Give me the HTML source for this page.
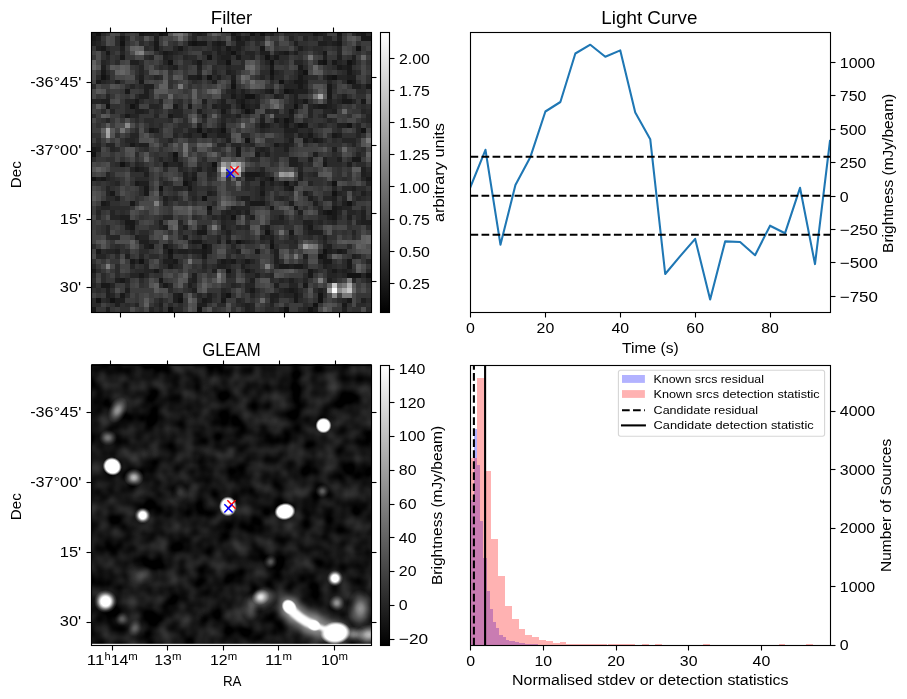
<!DOCTYPE html>
<html lang="en"><head><meta charset="utf-8"><title>Candidate diagnostic plot</title>
<style>html,body{margin:0;padding:0;background:#fff}body{width:907px;height:699px;overflow:hidden}svg{display:block;opacity:0.999;font-family:"Liberation Sans",sans-serif;fill:#000}text{font-family:"Liberation Sans",sans-serif}</style></head><body>
<svg width="907" height="699" viewBox="0 0 907 699">
<rect width="907" height="699" fill="#fff"/>
<defs>
<linearGradient id="cb" x1="0" y1="0" x2="0" y2="1"><stop offset="0" stop-color="#fff"/><stop offset="1" stop-color="#000"/></linearGradient>
<clipPath id="c1"><rect x="91.5" y="32.5" width="280" height="280"/></clipPath>
<clipPath id="c3"><rect x="91.5" y="364" width="280" height="281.5"/></clipPath>
<clipPath id="c2"><rect x="470.5" y="32.5" width="360" height="280"/></clipPath>
<clipPath id="c4"><rect x="470.5" y="365.5" width="360" height="280"/></clipPath>
<filter id="gn" x="0" y="0" width="1" height="1" color-interpolation-filters="sRGB"><feTurbulence type="fractalNoise" baseFrequency="0.056" numOctaves="2" seed="11" result="t"/><feColorMatrix in="t" type="matrix" values="0.38 0 0 0 -0.105  0.38 0 0 0 -0.105  0.38 0 0 0 -0.105  0 0 0 0 1"/></filter>
<filter id="b1" x="-1" y="-1" width="3" height="3"><feGaussianBlur stdDeviation="1.3"/></filter>
<filter id="b2" x="-1" y="-1" width="3" height="3"><feGaussianBlur stdDeviation="2.4"/></filter>
<filter id="b3" x="-1" y="-1" width="3" height="3"><feGaussianBlur stdDeviation="3.5"/></filter>
<radialGradient id="gA"><stop offset="0" stop-color="#fff" stop-opacity="1"/><stop offset="0.25" stop-color="#fff" stop-opacity="0.84"/><stop offset="0.5" stop-color="#fff" stop-opacity="0.5"/><stop offset="0.75" stop-color="#fff" stop-opacity="0.2"/><stop offset="1" stop-color="#fff" stop-opacity="0"/></radialGradient>
<radialGradient id="gB"><stop offset="0" stop-color="#fff" stop-opacity="1"/><stop offset="0.70" stop-color="#fff" stop-opacity="1"/><stop offset="0.80" stop-color="#fff" stop-opacity="0.7"/><stop offset="0.90" stop-color="#fff" stop-opacity="0.3"/><stop offset="1" stop-color="#fff" stop-opacity="0"/></radialGradient>
<radialGradient id="gC"><stop offset="0" stop-color="#fff" stop-opacity="1"/><stop offset="0.40" stop-color="#fff" stop-opacity="1"/><stop offset="0.52" stop-color="#fff" stop-opacity="0.78"/><stop offset="0.66" stop-color="#fff" stop-opacity="0.45"/><stop offset="0.82" stop-color="#fff" stop-opacity="0.16"/><stop offset="1" stop-color="#fff" stop-opacity="0"/></radialGradient>
</defs>
<g clip-path="url(#c1)" shape-rendering="crispEdges">
<rect x="91" y="32" width="281" height="281" fill="#2c2c2c"/>
<g transform="translate(91.18 31.15) scale(4.821 4.846)">
<path fill="#121212" d="M1 0h1v1h-1zM14 0h1v1h-1zM33 0h1v1h-1zM35 0h1v1h-1zM6 2h1v1h-1zM21 2h1v1h-1zM55 3h1v1h-1zM29 4h1v1h-1zM24 5h1v1h-1zM36 5h1v1h-1zM16 6h1v1h-1zM28 6h1v1h-1zM37 6h1v1h-1zM48 6h1v1h-1zM53 6h1v1h-1zM37 8h1v1h-1zM44 8h1v1h-1zM2 9h1v1h-1zM24 9h1v1h-1zM50 9h1v1h-1zM39 10h1v1h-1zM53 10h1v1h-1zM29 11h1v1h-1zM40 12h1v1h-1zM32 13h2v1h-2zM3 15h1v1h-1zM8 15h1v1h-1zM31 15h1v1h-1zM42 15h1v1h-1zM32 16h1v1h-1zM40 18h1v1h-1zM43 19h1v1h-1zM53 19h1v1h-1zM22 20h1v1h-1zM27 20h1v1h-1zM56 20h1v1h-1zM23 21h1v1h-1zM32 22h1v1h-1zM0 25h1v1h-1zM17 25h1v1h-1zM6 27h1v1h-1zM25 27h1v1h-1zM59 28h1v1h-1zM0 30h1v1h-1zM37 30h1v1h-1zM59 30h1v1h-1zM19 31h1v1h-1zM40 31h1v1h-1zM50 31h1v1h-1zM14 32h1v1h-1zM50 33h1v1h-1zM23 34h1v1h-1zM53 35h1v1h-1zM24 36h1v1h-1zM49 37h1v1h-1zM29 38h1v1h-1zM36 41h1v1h-1zM30 43h1v1h-1zM23 44h1v1h-1zM37 44h1v1h-1zM16 45h1v1h-1zM48 45h1v1h-1zM47 46h1v1h-1zM10 47h1v1h-1zM28 49h1v1h-1zM53 50h3v1h-3zM57 50h1v1h-1zM28 54h1v1h-1zM47 54h1v1h-1zM1 55h1v1h-1zM4 55h1v1h-1zM18 55h1v1h-1zM47 55h1v1h-1zM46 56h1v1h-1zM16 57h1v1h-1zM22 57h1v1h-1zM40 57h1v1h-1zM45 57h1v1h-1z"/>
<path fill="#181818" d="M10 0h1v1h-1zM15 0h1v1h-1zM29 0h1v1h-1zM46 0h1v1h-1zM51 0h1v1h-1zM56 0h1v1h-1zM0 1h1v1h-1zM6 1h1v1h-1zM30 1h1v1h-1zM56 1h2v1h-2zM13 2h1v1h-1zM20 2h1v1h-1zM22 2h2v1h-2zM26 2h1v1h-1zM51 2h1v1h-1zM58 2h1v1h-1zM2 3h1v1h-1zM13 3h1v1h-1zM18 3h1v1h-1zM28 3h1v1h-1zM35 3h1v1h-1zM3 4h1v1h-1zM15 4h1v1h-1zM40 4h1v1h-1zM48 4h1v1h-1zM6 5h1v1h-1zM30 5h1v1h-1zM38 5h1v1h-1zM22 6h1v1h-1zM47 6h1v1h-1zM50 6h1v1h-1zM37 7h1v1h-1zM43 7h1v1h-1zM51 7h1v1h-1zM53 7h1v1h-1zM2 8h1v1h-1zM53 8h1v1h-1zM22 9h1v1h-1zM37 9h1v1h-1zM43 9h1v1h-1zM49 9h1v1h-1zM1 10h1v1h-1zM10 10h1v1h-1zM29 10h1v1h-1zM42 10h2v1h-2zM54 10h1v1h-1zM43 11h1v1h-1zM49 11h1v1h-1zM57 11h1v1h-1zM7 12h1v1h-1zM37 12h1v1h-1zM41 12h1v1h-1zM49 12h1v1h-1zM29 13h1v1h-1zM49 13h1v1h-1zM9 14h1v1h-1zM31 14h1v1h-1zM44 14h1v1h-1zM52 14h2v1h-2zM56 14h1v1h-1zM17 15h1v1h-1zM20 15h1v1h-1zM47 15h2v1h-2zM27 16h1v1h-1zM41 16h1v1h-1zM7 17h1v1h-1zM16 17h1v1h-1zM38 18h1v1h-1zM35 19h1v1h-1zM40 19h1v1h-1zM44 19h1v1h-1zM12 20h1v1h-1zM45 21h1v1h-1zM50 21h1v1h-1zM44 22h1v1h-1zM46 22h1v1h-1zM8 23h1v1h-1zM38 23h1v1h-1zM0 24h1v1h-1zM30 24h1v1h-1zM30 25h1v1h-1zM34 25h1v1h-1zM17 26h1v1h-1zM54 26h2v1h-2zM15 27h1v1h-1zM48 27h1v1h-1zM9 28h1v1h-1zM32 29h3v1h-3zM2 30h1v1h-1zM21 30h1v1h-1zM57 30h1v1h-1zM9 31h1v1h-1zM35 31h1v1h-1zM11 32h1v1h-1zM20 32h1v1h-1zM41 32h1v1h-1zM4 33h1v1h-1zM11 33h1v1h-1zM35 33h1v1h-1zM2 35h1v1h-1zM8 35h1v1h-1zM33 35h3v1h-3zM37 36h1v1h-1zM42 36h1v1h-1zM50 36h1v1h-1zM48 37h1v1h-1zM50 37h1v1h-1zM50 38h1v1h-1zM7 39h2v1h-2zM59 39h1v1h-1zM8 40h1v1h-1zM45 40h1v1h-1zM58 40h1v1h-1zM22 41h2v1h-2zM41 41h1v1h-1zM21 43h2v1h-2zM28 43h1v1h-1zM37 43h1v1h-1zM12 44h1v1h-1zM15 44h1v1h-1zM1 45h1v1h-1zM23 45h1v1h-1zM34 45h1v1h-1zM51 45h1v1h-1zM16 46h1v1h-1zM23 46h1v1h-1zM48 46h1v1h-1zM8 47h1v1h-1zM17 47h1v1h-1zM27 47h1v1h-1zM29 47h1v1h-1zM32 47h1v1h-1zM48 47h2v1h-2zM53 47h1v1h-1zM16 48h1v1h-1zM39 48h2v1h-2zM42 48h2v1h-2zM53 48h1v1h-1zM0 49h1v1h-1zM13 49h1v1h-1zM32 49h1v1h-1zM45 49h1v1h-1zM50 49h1v1h-1zM10 50h1v1h-1zM45 50h1v1h-1zM6 51h1v1h-1zM14 51h1v1h-1zM2 52h2v1h-2zM15 52h1v1h-1zM44 52h1v1h-1zM33 53h1v1h-1zM41 53h1v1h-1zM6 54h1v1h-1zM18 54h1v1h-1zM42 54h1v1h-1zM23 55h1v1h-1zM27 55h1v1h-1zM42 55h1v1h-1zM53 55h1v1h-1zM52 56h1v1h-1zM0 57h1v1h-1zM3 58h1v1h-1zM46 58h1v1h-1zM21 59h1v1h-1zM33 59h1v1h-1zM37 59h1v1h-1zM39 59h1v1h-1zM43 59h1v1h-1z"/>
<path fill="#1e1e1e" d="M0 0h1v1h-1zM11 0h2v1h-2zM22 0h1v1h-1zM37 0h1v1h-1zM47 0h1v1h-1zM55 0h1v1h-1zM59 0h1v1h-1zM1 1h1v1h-1zM13 1h1v1h-1zM32 1h1v1h-1zM51 1h1v1h-1zM0 2h1v1h-1zM25 2h1v1h-1zM27 2h1v1h-1zM30 2h2v1h-2zM42 2h1v1h-1zM47 2h2v1h-2zM50 2h1v1h-1zM1 3h1v1h-1zM6 3h1v1h-1zM26 3h1v1h-1zM30 3h1v1h-1zM43 3h1v1h-1zM16 4h1v1h-1zM26 4h1v1h-1zM28 4h1v1h-1zM35 4h2v1h-2zM39 4h1v1h-1zM42 4h1v1h-1zM59 4h1v1h-1zM15 5h1v1h-1zM27 5h2v1h-2zM48 5h1v1h-1zM51 5h1v1h-1zM54 5h1v1h-1zM58 5h1v1h-1zM8 6h2v1h-2zM54 6h1v1h-1zM2 7h1v1h-1zM17 7h1v1h-1zM22 7h1v1h-1zM52 7h1v1h-1zM28 8h1v1h-1zM43 8h1v1h-1zM3 9h1v1h-1zM10 9h1v1h-1zM20 9h2v1h-2zM26 9h1v1h-1zM29 9h1v1h-1zM53 9h2v1h-2zM5 10h1v1h-1zM25 10h1v1h-1zM44 10h1v1h-1zM11 11h2v1h-2zM54 11h2v1h-2zM11 12h1v1h-1zM29 12h1v1h-1zM31 12h1v1h-1zM36 12h1v1h-1zM42 12h3v1h-3zM10 13h2v1h-2zM31 13h1v1h-1zM38 13h1v1h-1zM42 13h1v1h-1zM52 13h1v1h-1zM2 14h2v1h-2zM23 14h1v1h-1zM27 14h1v1h-1zM30 14h1v1h-1zM42 14h1v1h-1zM49 14h1v1h-1zM9 15h1v1h-1zM25 15h1v1h-1zM27 15h2v1h-2zM32 15h1v1h-1zM34 15h1v1h-1zM46 15h1v1h-1zM49 15h1v1h-1zM9 16h2v1h-2zM22 16h1v1h-1zM33 16h1v1h-1zM50 16h1v1h-1zM23 17h1v1h-1zM30 17h1v1h-1zM41 17h1v1h-1zM48 17h1v1h-1zM35 18h1v1h-1zM41 18h1v1h-1zM22 19h1v1h-1zM27 19h1v1h-1zM36 19h1v1h-1zM42 19h1v1h-1zM51 19h2v1h-2zM13 20h1v1h-1zM24 20h1v1h-1zM26 20h1v1h-1zM40 20h3v1h-3zM20 21h1v1h-1zM26 21h2v1h-2zM43 21h1v1h-1zM51 21h1v1h-1zM28 22h1v1h-1zM41 22h1v1h-1zM47 22h1v1h-1zM10 23h2v1h-2zM40 23h1v1h-1zM1 24h1v1h-1zM35 24h1v1h-1zM40 24h1v1h-1zM50 24h1v1h-1zM36 25h1v1h-1zM46 25h1v1h-1zM41 26h2v1h-2zM45 26h1v1h-1zM48 26h1v1h-1zM51 26h1v1h-1zM18 27h1v1h-1zM41 27h2v1h-2zM53 27h1v1h-1zM59 27h1v1h-1zM10 28h1v1h-1zM22 28h1v1h-1zM25 28h1v1h-1zM56 28h1v1h-1zM58 28h1v1h-1zM11 29h1v1h-1zM19 29h1v1h-1zM21 29h1v1h-1zM35 29h1v1h-1zM43 29h1v1h-1zM56 29h1v1h-1zM1 30h1v1h-1zM19 30h1v1h-1zM32 30h2v1h-2zM36 30h1v1h-1zM43 30h1v1h-1zM10 31h2v1h-2zM20 31h1v1h-1zM37 31h1v1h-1zM42 31h1v1h-1zM58 31h1v1h-1zM35 32h1v1h-1zM40 32h1v1h-1zM54 32h1v1h-1zM24 33h1v1h-1zM44 33h1v1h-1zM56 33h1v1h-1zM5 34h1v1h-1zM15 34h1v1h-1zM31 34h2v1h-2zM45 34h1v1h-1zM50 34h1v1h-1zM3 35h1v1h-1zM41 35h1v1h-1zM46 35h1v1h-1zM52 35h1v1h-1zM29 36h1v1h-1zM51 36h1v1h-1zM24 37h1v1h-1zM28 37h1v1h-1zM30 37h1v1h-1zM32 37h1v1h-1zM43 37h1v1h-1zM56 37h1v1h-1zM6 38h2v1h-2zM27 38h1v1h-1zM33 38h1v1h-1zM39 38h1v1h-1zM49 38h1v1h-1zM53 38h1v1h-1zM56 38h1v1h-1zM14 39h1v1h-1zM44 39h2v1h-2zM56 39h2v1h-2zM7 40h1v1h-1zM15 40h1v1h-1zM19 40h1v1h-1zM23 40h1v1h-1zM27 40h1v1h-1zM36 40h1v1h-1zM28 41h1v1h-1zM45 41h3v1h-3zM9 42h1v1h-1zM19 42h1v1h-1zM35 42h1v1h-1zM37 42h1v1h-1zM48 42h1v1h-1zM10 43h2v1h-2zM26 43h1v1h-1zM31 43h1v1h-1zM11 44h1v1h-1zM24 44h1v1h-1zM49 44h1v1h-1zM5 45h1v1h-1zM18 45h2v1h-2zM21 45h2v1h-2zM24 45h1v1h-1zM30 45h1v1h-1zM38 45h1v1h-1zM49 45h1v1h-1zM52 45h1v1h-1zM7 46h1v1h-1zM38 46h1v1h-1zM44 46h1v1h-1zM54 46h1v1h-1zM15 47h2v1h-2zM28 47h1v1h-1zM38 47h1v1h-1zM58 47h1v1h-1zM26 48h2v1h-2zM31 48h1v1h-1zM41 48h1v1h-1zM48 48h1v1h-1zM25 49h1v1h-1zM52 49h1v1h-1zM21 50h1v1h-1zM34 50h1v1h-1zM5 51h1v1h-1zM21 51h1v1h-1zM33 51h1v1h-1zM41 51h1v1h-1zM49 51h1v1h-1zM20 52h1v1h-1zM38 52h1v1h-1zM59 52h1v1h-1zM3 53h1v1h-1zM7 53h1v1h-1zM21 53h1v1h-1zM40 53h1v1h-1zM42 53h1v1h-1zM47 53h1v1h-1zM3 54h1v1h-1zM17 54h1v1h-1zM24 54h1v1h-1zM27 54h1v1h-1zM37 54h2v1h-2zM5 55h2v1h-2zM17 55h1v1h-1zM24 55h1v1h-1zM37 55h1v1h-1zM56 55h1v1h-1zM5 56h1v1h-1zM14 56h1v1h-1zM22 56h2v1h-2zM32 56h1v1h-1zM58 56h1v1h-1zM3 57h1v1h-1zM32 57h1v1h-1zM46 57h1v1h-1zM52 57h1v1h-1zM14 58h3v1h-3zM18 58h1v1h-1zM22 58h1v1h-1zM33 58h1v1h-1zM36 58h1v1h-1zM45 58h1v1h-1zM52 58h1v1h-1zM0 59h1v1h-1zM3 59h1v1h-1zM13 59h1v1h-1zM20 59h1v1h-1zM32 59h1v1h-1zM34 59h1v1h-1zM50 59h1v1h-1zM55 59h1v1h-1zM59 59h1v1h-1z"/>
<path fill="#242424" d="M13 0h1v1h-1zM21 0h1v1h-1zM23 0h1v1h-1zM30 0h1v1h-1zM34 0h1v1h-1zM36 0h1v1h-1zM48 0h1v1h-1zM21 1h1v1h-1zM29 1h1v1h-1zM31 1h1v1h-1zM34 1h2v1h-2zM41 1h1v1h-1zM44 1h1v1h-1zM48 1h2v1h-2zM1 2h1v1h-1zM49 2h1v1h-1zM17 3h1v1h-1zM25 3h1v1h-1zM29 3h1v1h-1zM51 3h1v1h-1zM58 3h1v1h-1zM6 4h1v1h-1zM14 4h1v1h-1zM17 4h1v1h-1zM23 4h2v1h-2zM27 4h1v1h-1zM30 4h1v1h-1zM32 4h2v1h-2zM38 4h1v1h-1zM51 4h1v1h-1zM58 4h1v1h-1zM3 5h1v1h-1zM12 5h1v1h-1zM16 5h1v1h-1zM19 5h1v1h-1zM26 5h1v1h-1zM33 5h1v1h-1zM37 5h1v1h-1zM2 6h1v1h-1zM15 6h1v1h-1zM21 6h1v1h-1zM26 6h2v1h-2zM36 6h1v1h-1zM42 6h2v1h-2zM51 6h1v1h-1zM10 7h1v1h-1zM16 7h1v1h-1zM28 7h1v1h-1zM58 7h1v1h-1zM10 8h1v1h-1zM22 8h1v1h-1zM25 8h1v1h-1zM29 8h1v1h-1zM38 8h1v1h-1zM54 8h1v1h-1zM13 9h1v1h-1zM35 9h1v1h-1zM44 9h1v1h-1zM48 9h1v1h-1zM51 9h2v1h-2zM2 10h1v1h-1zM41 10h1v1h-1zM49 10h1v1h-1zM8 11h1v1h-1zM40 11h3v1h-3zM44 11h1v1h-1zM58 11h1v1h-1zM28 12h1v1h-1zM3 13h1v1h-1zM30 13h1v1h-1zM34 13h1v1h-1zM39 13h1v1h-1zM0 14h2v1h-2zM7 14h2v1h-2zM14 14h1v1h-1zM32 14h1v1h-1zM34 14h1v1h-1zM43 14h1v1h-1zM51 14h1v1h-1zM54 14h1v1h-1zM12 15h2v1h-2zM26 15h1v1h-1zM30 15h1v1h-1zM33 15h1v1h-1zM45 15h1v1h-1zM50 15h1v1h-1zM59 15h1v1h-1zM4 16h1v1h-1zM11 16h1v1h-1zM17 16h2v1h-2zM31 16h1v1h-1zM36 16h1v1h-1zM38 16h1v1h-1zM45 16h1v1h-1zM48 16h2v1h-2zM56 16h1v1h-1zM58 16h1v1h-1zM8 17h2v1h-2zM13 17h1v1h-1zM17 17h2v1h-2zM27 17h2v1h-2zM35 17h1v1h-1zM45 17h1v1h-1zM57 17h1v1h-1zM3 18h1v1h-1zM27 18h1v1h-1zM39 18h1v1h-1zM49 18h1v1h-1zM57 18h1v1h-1zM39 19h1v1h-1zM47 19h1v1h-1zM55 19h1v1h-1zM20 20h2v1h-2zM25 20h1v1h-1zM35 20h1v1h-1zM45 20h1v1h-1zM55 20h1v1h-1zM8 21h2v1h-2zM17 21h1v1h-1zM19 21h1v1h-1zM28 21h1v1h-1zM40 21h2v1h-2zM44 21h1v1h-1zM55 21h1v1h-1zM59 21h1v1h-1zM7 22h2v1h-2zM16 22h1v1h-1zM45 22h1v1h-1zM52 22h3v1h-3zM1 23h1v1h-1zM3 23h2v1h-2zM9 23h1v1h-1zM26 23h2v1h-2zM29 23h2v1h-2zM33 23h1v1h-1zM39 23h1v1h-1zM41 23h1v1h-1zM54 23h1v1h-1zM4 24h1v1h-1zM34 24h1v1h-1zM36 24h1v1h-1zM59 24h1v1h-1zM55 25h1v1h-1zM59 25h1v1h-1zM14 26h1v1h-1zM7 27h1v1h-1zM9 27h1v1h-1zM16 27h2v1h-2zM43 27h1v1h-1zM58 27h1v1h-1zM8 28h1v1h-1zM11 28h1v1h-1zM18 28h1v1h-1zM24 28h1v1h-1zM35 28h1v1h-1zM43 28h1v1h-1zM3 29h1v1h-1zM24 29h1v1h-1zM46 29h1v1h-1zM57 29h1v1h-1zM59 29h1v1h-1zM3 30h1v1h-1zM20 30h1v1h-1zM35 30h1v1h-1zM56 30h1v1h-1zM58 30h1v1h-1zM5 31h1v1h-1zM15 31h1v1h-1zM39 31h1v1h-1zM45 31h1v1h-1zM57 31h1v1h-1zM3 32h1v1h-1zM17 32h2v1h-2zM50 32h1v1h-1zM52 32h2v1h-2zM3 33h1v1h-1zM14 33h1v1h-1zM25 33h1v1h-1zM51 33h1v1h-1zM58 33h1v1h-1zM17 34h1v1h-1zM21 34h1v1h-1zM35 34h1v1h-1zM39 34h1v1h-1zM48 34h2v1h-2zM52 34h1v1h-1zM55 34h1v1h-1zM58 34h1v1h-1zM15 35h1v1h-1zM32 35h1v1h-1zM50 35h1v1h-1zM2 36h2v1h-2zM30 36h3v1h-3zM47 36h1v1h-1zM52 36h2v1h-2zM1 37h1v1h-1zM4 37h1v1h-1zM27 37h1v1h-1zM29 37h1v1h-1zM47 37h1v1h-1zM51 37h1v1h-1zM53 37h2v1h-2zM4 38h2v1h-2zM15 38h2v1h-2zM25 38h1v1h-1zM28 38h1v1h-1zM59 38h1v1h-1zM18 39h1v1h-1zM27 39h1v1h-1zM37 39h3v1h-3zM47 39h1v1h-1zM50 39h1v1h-1zM55 39h1v1h-1zM3 40h1v1h-1zM14 40h1v1h-1zM30 40h1v1h-1zM32 40h1v1h-1zM44 40h1v1h-1zM3 41h1v1h-1zM8 41h1v1h-1zM54 41h1v1h-1zM4 42h2v1h-2zM10 42h2v1h-2zM26 42h1v1h-1zM28 42h1v1h-1zM36 42h1v1h-1zM41 42h1v1h-1zM20 43h1v1h-1zM32 43h1v1h-1zM42 43h1v1h-1zM48 43h1v1h-1zM16 44h1v1h-1zM29 44h1v1h-1zM48 44h1v1h-1zM3 45h2v1h-2zM15 45h1v1h-1zM17 45h1v1h-1zM20 45h1v1h-1zM50 45h1v1h-1zM1 46h2v1h-2zM10 46h1v1h-1zM55 46h1v1h-1zM9 47h1v1h-1zM26 47h1v1h-1zM31 47h1v1h-1zM33 47h1v1h-1zM47 47h1v1h-1zM57 47h1v1h-1zM59 47h1v1h-1zM0 48h1v1h-1zM8 48h1v1h-1zM11 48h1v1h-1zM17 48h1v1h-1zM23 48h1v1h-1zM28 48h1v1h-1zM38 48h1v1h-1zM44 48h1v1h-1zM49 48h1v1h-1zM58 48h1v1h-1zM11 49h2v1h-2zM33 49h1v1h-1zM46 49h1v1h-1zM49 49h1v1h-1zM51 49h1v1h-1zM53 49h1v1h-1zM0 50h1v1h-1zM8 50h2v1h-2zM11 50h1v1h-1zM28 50h1v1h-1zM37 50h1v1h-1zM49 50h2v1h-2zM52 50h1v1h-1zM56 50h1v1h-1zM58 50h1v1h-1zM7 51h1v1h-1zM20 51h1v1h-1zM39 51h1v1h-1zM44 51h1v1h-1zM54 51h1v1h-1zM57 51h1v1h-1zM0 52h1v1h-1zM4 52h1v1h-1zM16 52h1v1h-1zM29 52h1v1h-1zM32 52h2v1h-2zM41 52h2v1h-2zM27 53h1v1h-1zM32 53h1v1h-1zM39 53h1v1h-1zM4 54h1v1h-1zM22 54h1v1h-1zM33 54h1v1h-1zM40 54h2v1h-2zM43 54h1v1h-1zM3 55h1v1h-1zM14 55h1v1h-1zM30 55h1v1h-1zM38 55h1v1h-1zM52 55h1v1h-1zM58 55h1v1h-1zM9 56h1v1h-1zM31 56h1v1h-1zM33 56h1v1h-1zM37 56h1v1h-1zM12 57h1v1h-1zM14 57h1v1h-1zM33 57h1v1h-1zM39 57h1v1h-1zM44 57h1v1h-1zM10 58h1v1h-1zM12 58h2v1h-2zM19 58h1v1h-1zM25 58h1v1h-1zM32 58h1v1h-1zM39 58h2v1h-2zM44 58h1v1h-1zM50 58h1v1h-1zM55 58h1v1h-1zM58 58h2v1h-2zM1 59h1v1h-1zM10 59h2v1h-2zM22 59h2v1h-2zM29 59h3v1h-3zM36 59h1v1h-1zM40 59h2v1h-2zM45 59h1v1h-1zM47 59h1v1h-1zM57 59h1v1h-1z"/>
<path fill="#2a2a2a" d="M2 0h1v1h-1zM6 0h1v1h-1zM40 0h2v1h-2zM43 0h3v1h-3zM54 0h1v1h-1zM57 0h1v1h-1zM5 1h1v1h-1zM7 1h1v1h-1zM33 1h1v1h-1zM46 1h1v1h-1zM59 1h1v1h-1zM5 2h1v1h-1zM10 2h1v1h-1zM12 2h1v1h-1zM34 2h1v1h-1zM59 2h1v1h-1zM3 3h1v1h-1zM11 3h1v1h-1zM14 3h1v1h-1zM19 3h1v1h-1zM27 3h1v1h-1zM31 3h1v1h-1zM44 3h1v1h-1zM46 3h2v1h-2zM18 4h1v1h-1zM41 4h1v1h-1zM47 4h1v1h-1zM11 5h1v1h-1zM20 5h2v1h-2zM31 5h2v1h-2zM35 5h1v1h-1zM39 5h2v1h-2zM59 5h1v1h-1zM3 6h1v1h-1zM5 6h1v1h-1zM10 6h1v1h-1zM31 6h1v1h-1zM39 6h1v1h-1zM52 6h1v1h-1zM14 7h1v1h-1zM25 7h1v1h-1zM29 7h3v1h-3zM44 7h1v1h-1zM50 7h1v1h-1zM3 8h1v1h-1zM35 8h2v1h-2zM39 8h1v1h-1zM42 8h1v1h-1zM52 8h1v1h-1zM55 8h1v1h-1zM58 8h1v1h-1zM1 9h1v1h-1zM9 9h1v1h-1zM14 9h1v1h-1zM25 9h1v1h-1zM38 9h2v1h-2zM42 9h1v1h-1zM45 9h2v1h-2zM58 9h1v1h-1zM3 10h1v1h-1zM21 10h1v1h-1zM37 10h1v1h-1zM40 10h1v1h-1zM52 10h1v1h-1zM58 10h1v1h-1zM0 11h1v1h-1zM10 11h1v1h-1zM50 11h1v1h-1zM56 11h1v1h-1zM30 12h1v1h-1zM32 12h1v1h-1zM35 12h1v1h-1zM39 12h1v1h-1zM55 12h2v1h-2zM9 13h1v1h-1zM27 13h2v1h-2zM41 13h1v1h-1zM51 13h1v1h-1zM10 14h1v1h-1zM18 14h1v1h-1zM26 14h1v1h-1zM33 14h1v1h-1zM41 14h1v1h-1zM50 14h1v1h-1zM7 15h1v1h-1zM14 15h1v1h-1zM18 15h1v1h-1zM23 15h1v1h-1zM40 15h2v1h-2zM43 15h1v1h-1zM56 15h1v1h-1zM58 15h1v1h-1zM2 16h1v1h-1zM7 16h2v1h-2zM13 16h1v1h-1zM16 16h1v1h-1zM28 16h1v1h-1zM37 16h1v1h-1zM40 16h1v1h-1zM42 16h1v1h-1zM57 16h1v1h-1zM59 16h1v1h-1zM0 17h1v1h-1zM6 17h1v1h-1zM29 17h1v1h-1zM38 17h3v1h-3zM47 17h1v1h-1zM58 17h1v1h-1zM9 18h1v1h-1zM11 18h2v1h-2zM16 18h1v1h-1zM19 18h1v1h-1zM23 18h1v1h-1zM29 18h1v1h-1zM44 18h1v1h-1zM50 18h1v1h-1zM56 18h1v1h-1zM58 18h1v1h-1zM12 19h1v1h-1zM14 19h1v1h-1zM18 19h2v1h-2zM26 19h1v1h-1zM34 19h1v1h-1zM37 19h1v1h-1zM41 19h1v1h-1zM48 19h1v1h-1zM58 19h1v1h-1zM9 20h1v1h-1zM17 20h2v1h-2zM23 20h1v1h-1zM36 20h1v1h-1zM43 20h2v1h-2zM51 20h1v1h-1zM21 21h2v1h-2zM24 21h2v1h-2zM31 21h2v1h-2zM46 21h1v1h-1zM1 22h1v1h-1zM9 22h1v1h-1zM40 22h1v1h-1zM48 22h1v1h-1zM50 22h1v1h-1zM0 23h1v1h-1zM7 23h1v1h-1zM15 23h1v1h-1zM32 23h1v1h-1zM59 23h1v1h-1zM5 24h1v1h-1zM11 24h1v1h-1zM38 24h2v1h-2zM56 24h1v1h-1zM9 25h1v1h-1zM16 25h1v1h-1zM35 25h1v1h-1zM38 25h3v1h-3zM50 25h1v1h-1zM0 26h1v1h-1zM16 26h1v1h-1zM23 26h1v1h-1zM33 26h2v1h-2zM38 26h1v1h-1zM49 26h2v1h-2zM59 26h1v1h-1zM5 27h1v1h-1zM10 27h1v1h-1zM22 27h1v1h-1zM24 27h1v1h-1zM45 27h1v1h-1zM49 27h3v1h-3zM55 27h2v1h-2zM15 28h1v1h-1zM19 28h1v1h-1zM21 28h1v1h-1zM57 28h1v1h-1zM20 29h1v1h-1zM25 29h1v1h-1zM36 29h1v1h-1zM45 29h1v1h-1zM58 29h1v1h-1zM4 30h1v1h-1zM9 30h3v1h-3zM14 30h1v1h-1zM24 30h1v1h-1zM52 30h1v1h-1zM4 31h1v1h-1zM16 31h1v1h-1zM21 31h1v1h-1zM32 31h1v1h-1zM36 31h1v1h-1zM38 31h1v1h-1zM41 31h1v1h-1zM49 31h1v1h-1zM59 31h1v1h-1zM10 32h1v1h-1zM19 32h1v1h-1zM21 32h1v1h-1zM24 32h1v1h-1zM32 32h1v1h-1zM34 32h1v1h-1zM36 32h2v1h-2zM55 32h2v1h-2zM58 32h1v1h-1zM10 33h1v1h-1zM20 33h2v1h-2zM34 33h1v1h-1zM45 33h1v1h-1zM52 33h1v1h-1zM54 33h1v1h-1zM57 33h1v1h-1zM59 33h1v1h-1zM3 34h2v1h-2zM16 34h1v1h-1zM30 34h1v1h-1zM34 34h1v1h-1zM38 34h1v1h-1zM40 34h1v1h-1zM46 34h1v1h-1zM56 34h1v1h-1zM25 35h1v1h-1zM36 35h1v1h-1zM54 35h1v1h-1zM59 35h1v1h-1zM1 36h1v1h-1zM4 36h4v1h-4zM56 36h1v1h-1zM6 37h1v1h-1zM31 37h1v1h-1zM55 37h1v1h-1zM1 38h1v1h-1zM21 38h1v1h-1zM26 38h1v1h-1zM32 38h1v1h-1zM38 38h1v1h-1zM43 38h1v1h-1zM47 38h2v1h-2zM51 38h1v1h-1zM55 38h1v1h-1zM6 39h1v1h-1zM9 39h1v1h-1zM28 39h2v1h-2zM40 39h1v1h-1zM46 39h1v1h-1zM49 39h1v1h-1zM53 39h1v1h-1zM18 40h1v1h-1zM22 40h1v1h-1zM28 40h1v1h-1zM31 40h1v1h-1zM35 40h1v1h-1zM57 40h1v1h-1zM10 41h2v1h-2zM18 41h1v1h-1zM21 41h1v1h-1zM27 41h1v1h-1zM37 41h1v1h-1zM44 41h1v1h-1zM3 42h1v1h-1zM22 42h1v1h-1zM42 42h1v1h-1zM45 42h1v1h-1zM47 42h1v1h-1zM54 42h1v1h-1zM12 43h2v1h-2zM23 43h1v1h-1zM29 43h1v1h-1zM33 43h1v1h-1zM35 43h1v1h-1zM40 43h2v1h-2zM0 44h1v1h-1zM5 44h1v1h-1zM21 44h1v1h-1zM38 44h1v1h-1zM41 44h2v1h-2zM53 44h1v1h-1zM59 44h1v1h-1zM2 45h1v1h-1zM7 45h1v1h-1zM10 45h2v1h-2zM29 45h1v1h-1zM37 45h1v1h-1zM5 46h1v1h-1zM12 46h2v1h-2zM15 46h1v1h-1zM22 46h1v1h-1zM28 46h1v1h-1zM11 47h1v1h-1zM23 47h1v1h-1zM30 47h1v1h-1zM39 47h1v1h-1zM44 47h1v1h-1zM52 47h1v1h-1zM5 48h1v1h-1zM15 48h1v1h-1zM18 48h1v1h-1zM25 48h1v1h-1zM32 48h1v1h-1zM50 48h1v1h-1zM52 48h1v1h-1zM1 49h1v1h-1zM5 49h1v1h-1zM9 49h2v1h-2zM14 49h1v1h-1zM23 49h1v1h-1zM29 49h1v1h-1zM31 49h1v1h-1zM57 49h2v1h-2zM2 50h1v1h-1zM5 50h1v1h-1zM29 50h1v1h-1zM32 50h2v1h-2zM36 50h1v1h-1zM44 50h1v1h-1zM51 50h1v1h-1zM0 51h1v1h-1zM2 51h1v1h-1zM10 51h1v1h-1zM37 51h1v1h-1zM40 51h1v1h-1zM42 51h1v1h-1zM50 51h1v1h-1zM59 51h1v1h-1zM7 52h1v1h-1zM14 52h1v1h-1zM21 52h1v1h-1zM30 52h1v1h-1zM1 53h1v1h-1zM16 53h1v1h-1zM20 53h1v1h-1zM28 53h1v1h-1zM34 53h1v1h-1zM43 53h1v1h-1zM46 53h1v1h-1zM48 53h1v1h-1zM7 54h1v1h-1zM25 54h1v1h-1zM39 54h1v1h-1zM48 54h1v1h-1zM0 55h1v1h-1zM2 55h1v1h-1zM22 55h1v1h-1zM31 55h1v1h-1zM43 55h1v1h-1zM51 55h1v1h-1zM57 55h1v1h-1zM59 55h1v1h-1zM0 56h2v1h-2zM7 56h1v1h-1zM13 56h1v1h-1zM16 56h1v1h-1zM18 56h1v1h-1zM26 56h2v1h-2zM30 56h1v1h-1zM44 56h1v1h-1zM55 56h2v1h-2zM17 57h2v1h-2zM36 57h2v1h-2zM43 57h1v1h-1zM57 57h1v1h-1zM0 58h2v1h-2zM34 58h2v1h-2zM37 58h2v1h-2zM43 58h1v1h-1zM12 59h1v1h-1zM14 59h2v1h-2zM27 59h1v1h-1zM35 59h1v1h-1zM38 59h1v1h-1zM46 59h1v1h-1zM51 59h1v1h-1zM58 59h1v1h-1z"/>
<path fill="#303030" d="M32 0h1v1h-1zM38 0h1v1h-1zM42 0h1v1h-1zM10 1h1v1h-1zM20 1h1v1h-1zM42 1h1v1h-1zM45 1h1v1h-1zM2 2h1v1h-1zM7 2h1v1h-1zM17 2h1v1h-1zM19 2h1v1h-1zM24 2h1v1h-1zM32 2h1v1h-1zM38 2h1v1h-1zM43 2h2v1h-2zM55 2h1v1h-1zM4 3h2v1h-2zM12 3h1v1h-1zM21 3h2v1h-2zM24 3h1v1h-1zM42 3h1v1h-1zM45 3h1v1h-1zM48 3h1v1h-1zM50 3h1v1h-1zM2 4h1v1h-1zM4 4h1v1h-1zM13 4h1v1h-1zM19 4h1v1h-1zM25 4h1v1h-1zM31 4h1v1h-1zM34 4h1v1h-1zM43 4h1v1h-1zM46 4h1v1h-1zM55 4h1v1h-1zM57 4h1v1h-1zM2 5h1v1h-1zM5 5h1v1h-1zM17 5h1v1h-1zM23 5h1v1h-1zM25 5h1v1h-1zM29 5h1v1h-1zM43 5h1v1h-1zM53 5h1v1h-1zM19 6h2v1h-2zM23 6h1v1h-1zM35 6h1v1h-1zM38 6h1v1h-1zM40 6h1v1h-1zM44 6h1v1h-1zM49 6h1v1h-1zM55 6h1v1h-1zM57 6h2v1h-2zM9 7h1v1h-1zM15 7h1v1h-1zM19 7h1v1h-1zM26 7h2v1h-2zM36 7h1v1h-1zM49 7h1v1h-1zM54 7h1v1h-1zM9 8h1v1h-1zM11 8h1v1h-1zM16 8h1v1h-1zM26 8h1v1h-1zM30 8h1v1h-1zM51 8h1v1h-1zM12 9h1v1h-1zM23 9h1v1h-1zM27 9h1v1h-1zM34 9h1v1h-1zM36 9h1v1h-1zM41 9h1v1h-1zM57 9h1v1h-1zM4 10h1v1h-1zM6 10h1v1h-1zM16 10h1v1h-1zM22 10h1v1h-1zM24 10h1v1h-1zM50 10h1v1h-1zM55 10h1v1h-1zM57 10h1v1h-1zM7 11h1v1h-1zM9 11h1v1h-1zM16 11h1v1h-1zM20 11h1v1h-1zM30 11h1v1h-1zM37 11h1v1h-1zM59 11h1v1h-1zM12 12h1v1h-1zM34 12h1v1h-1zM45 12h1v1h-1zM50 12h1v1h-1zM12 13h1v1h-1zM35 13h1v1h-1zM53 13h1v1h-1zM55 13h2v1h-2zM12 14h1v1h-1zM17 14h1v1h-1zM20 14h1v1h-1zM29 14h1v1h-1zM45 14h1v1h-1zM4 15h2v1h-2zM51 15h1v1h-1zM55 15h1v1h-1zM57 15h1v1h-1zM14 16h1v1h-1zM23 16h1v1h-1zM26 16h1v1h-1zM19 17h1v1h-1zM32 17h1v1h-1zM53 17h1v1h-1zM2 18h1v1h-1zM13 18h3v1h-3zM26 18h1v1h-1zM28 18h1v1h-1zM45 18h1v1h-1zM48 18h1v1h-1zM1 19h1v1h-1zM13 19h1v1h-1zM20 19h1v1h-1zM38 19h1v1h-1zM46 19h1v1h-1zM50 19h1v1h-1zM54 19h1v1h-1zM57 19h1v1h-1zM59 19h1v1h-1zM11 20h1v1h-1zM14 20h1v1h-1zM28 20h1v1h-1zM34 20h1v1h-1zM37 20h3v1h-3zM50 20h1v1h-1zM0 21h2v1h-2zM5 21h1v1h-1zM13 21h2v1h-2zM18 21h1v1h-1zM49 21h1v1h-1zM52 21h3v1h-3zM56 21h1v1h-1zM6 22h1v1h-1zM14 22h2v1h-2zM20 22h2v1h-2zM25 22h1v1h-1zM27 22h1v1h-1zM36 22h2v1h-2zM51 22h1v1h-1zM55 22h1v1h-1zM59 22h1v1h-1zM6 23h1v1h-1zM31 23h1v1h-1zM37 23h1v1h-1zM44 23h1v1h-1zM47 23h1v1h-1zM49 23h3v1h-3zM53 23h1v1h-1zM10 24h1v1h-1zM14 24h1v1h-1zM21 24h1v1h-1zM25 24h2v1h-2zM55 24h1v1h-1zM1 25h1v1h-1zM13 25h1v1h-1zM27 25h1v1h-1zM37 25h1v1h-1zM51 25h1v1h-1zM56 25h1v1h-1zM3 26h2v1h-2zM6 26h1v1h-1zM9 26h1v1h-1zM13 26h1v1h-1zM15 26h1v1h-1zM18 26h1v1h-1zM37 26h1v1h-1zM53 26h1v1h-1zM4 27h1v1h-1zM13 27h1v1h-1zM23 27h1v1h-1zM37 27h1v1h-1zM44 27h1v1h-1zM52 27h1v1h-1zM23 28h1v1h-1zM34 28h1v1h-1zM51 28h1v1h-1zM4 29h1v1h-1zM8 29h3v1h-3zM31 29h1v1h-1zM44 29h1v1h-1zM51 29h1v1h-1zM53 29h1v1h-1zM5 30h1v1h-1zM25 30h1v1h-1zM28 30h1v1h-1zM30 30h1v1h-1zM34 30h1v1h-1zM45 30h3v1h-3zM50 30h2v1h-2zM53 30h1v1h-1zM1 31h1v1h-1zM3 31h1v1h-1zM8 31h1v1h-1zM14 31h1v1h-1zM46 31h2v1h-2zM4 32h1v1h-1zM16 32h1v1h-1zM22 32h2v1h-2zM25 32h1v1h-1zM31 32h1v1h-1zM33 32h1v1h-1zM39 32h1v1h-1zM59 32h1v1h-1zM17 33h1v1h-1zM33 33h1v1h-1zM36 33h1v1h-1zM38 33h1v1h-1zM41 33h1v1h-1zM48 33h2v1h-2zM55 33h1v1h-1zM9 34h1v1h-1zM18 34h1v1h-1zM20 34h1v1h-1zM22 34h1v1h-1zM33 34h1v1h-1zM54 34h1v1h-1zM57 34h1v1h-1zM4 35h2v1h-2zM9 35h1v1h-1zM16 35h1v1h-1zM18 35h2v1h-2zM21 35h1v1h-1zM47 35h1v1h-1zM51 35h1v1h-1zM44 36h1v1h-1zM46 36h1v1h-1zM59 36h1v1h-1zM5 37h1v1h-1zM7 37h1v1h-1zM37 37h3v1h-3zM59 37h1v1h-1zM10 38h1v1h-1zM14 38h1v1h-1zM22 38h1v1h-1zM24 38h1v1h-1zM37 38h1v1h-1zM40 38h1v1h-1zM42 38h1v1h-1zM13 39h1v1h-1zM32 39h1v1h-1zM42 39h2v1h-2zM48 39h1v1h-1zM2 40h1v1h-1zM12 40h2v1h-2zM29 40h1v1h-1zM40 40h2v1h-2zM46 40h1v1h-1zM53 40h1v1h-1zM59 40h1v1h-1zM2 41h1v1h-1zM7 41h1v1h-1zM16 41h1v1h-1zM29 41h1v1h-1zM32 41h1v1h-1zM50 41h1v1h-1zM52 41h1v1h-1zM18 42h1v1h-1zM21 42h1v1h-1zM24 42h2v1h-2zM32 42h1v1h-1zM38 42h1v1h-1zM44 42h1v1h-1zM49 42h2v1h-2zM16 43h1v1h-1zM24 43h2v1h-2zM36 43h1v1h-1zM38 43h2v1h-2zM47 43h1v1h-1zM4 44h1v1h-1zM6 44h1v1h-1zM10 44h1v1h-1zM17 44h1v1h-1zM20 44h1v1h-1zM22 44h1v1h-1zM6 45h1v1h-1zM28 45h1v1h-1zM47 45h1v1h-1zM3 46h1v1h-1zM19 46h1v1h-1zM21 46h1v1h-1zM30 46h2v1h-2zM0 47h1v1h-1zM14 47h1v1h-1zM18 47h1v1h-1zM34 47h1v1h-1zM50 47h1v1h-1zM10 48h1v1h-1zM14 48h1v1h-1zM21 48h1v1h-1zM24 48h1v1h-1zM29 48h1v1h-1zM33 48h2v1h-2zM47 48h1v1h-1zM51 48h1v1h-1zM59 48h1v1h-1zM8 49h1v1h-1zM22 49h1v1h-1zM34 49h1v1h-1zM47 49h1v1h-1zM54 49h1v1h-1zM7 50h1v1h-1zM13 50h2v1h-2zM35 50h1v1h-1zM28 51h2v1h-2zM32 51h1v1h-1zM38 51h1v1h-1zM43 51h1v1h-1zM56 51h1v1h-1zM58 51h1v1h-1zM1 52h1v1h-1zM10 52h1v1h-1zM28 52h1v1h-1zM58 52h1v1h-1zM0 53h1v1h-1zM2 53h1v1h-1zM4 53h1v1h-1zM19 53h1v1h-1zM38 53h1v1h-1zM23 54h1v1h-1zM29 54h1v1h-1zM34 54h1v1h-1zM36 54h1v1h-1zM13 55h1v1h-1zM15 55h1v1h-1zM25 55h1v1h-1zM33 55h1v1h-1zM41 55h1v1h-1zM44 55h1v1h-1zM46 55h1v1h-1zM4 56h1v1h-1zM6 56h1v1h-1zM8 56h1v1h-1zM36 56h1v1h-1zM40 56h1v1h-1zM45 56h1v1h-1zM53 56h1v1h-1zM57 56h1v1h-1zM6 57h2v1h-2zM13 57h1v1h-1zM25 57h1v1h-1zM29 57h1v1h-1zM31 57h1v1h-1zM38 57h1v1h-1zM54 57h2v1h-2zM2 58h1v1h-1zM11 58h1v1h-1zM29 58h1v1h-1zM31 58h1v1h-1zM47 58h1v1h-1zM54 58h1v1h-1zM57 58h1v1h-1zM2 59h1v1h-1zM7 59h1v1h-1zM24 59h1v1h-1zM28 59h1v1h-1zM52 59h1v1h-1z"/>
<path fill="#363636" d="M3 0h1v1h-1zM31 0h1v1h-1zM52 0h1v1h-1zM2 1h1v1h-1zM9 1h1v1h-1zM23 1h1v1h-1zM26 1h1v1h-1zM47 1h1v1h-1zM50 1h1v1h-1zM11 2h1v1h-1zM16 2h1v1h-1zM29 2h1v1h-1zM35 2h1v1h-1zM41 2h1v1h-1zM45 2h2v1h-2zM52 2h1v1h-1zM0 3h1v1h-1zM15 3h2v1h-2zM20 3h1v1h-1zM23 3h1v1h-1zM32 3h1v1h-1zM34 3h1v1h-1zM38 3h1v1h-1zM49 3h1v1h-1zM54 3h1v1h-1zM56 3h1v1h-1zM7 4h1v1h-1zM44 4h1v1h-1zM54 4h1v1h-1zM0 5h1v1h-1zM4 5h1v1h-1zM7 5h2v1h-2zM18 5h1v1h-1zM42 5h1v1h-1zM49 5h2v1h-2zM52 5h1v1h-1zM4 6h1v1h-1zM14 6h1v1h-1zM17 6h1v1h-1zM24 6h2v1h-2zM29 6h2v1h-2zM46 6h1v1h-1zM3 7h1v1h-1zM8 7h1v1h-1zM13 7h1v1h-1zM18 7h1v1h-1zM35 7h1v1h-1zM40 7h1v1h-1zM48 7h1v1h-1zM55 7h1v1h-1zM57 7h1v1h-1zM1 8h1v1h-1zM4 8h1v1h-1zM19 8h1v1h-1zM27 8h1v1h-1zM40 8h2v1h-2zM49 8h1v1h-1zM4 9h1v1h-1zM11 9h1v1h-1zM16 9h1v1h-1zM19 9h1v1h-1zM28 9h1v1h-1zM9 10h1v1h-1zM17 10h1v1h-1zM20 10h1v1h-1zM38 10h1v1h-1zM45 10h4v1h-4zM22 11h1v1h-1zM28 11h1v1h-1zM36 11h1v1h-1zM39 11h1v1h-1zM53 11h1v1h-1zM3 12h1v1h-1zM6 12h1v1h-1zM10 12h1v1h-1zM19 12h1v1h-1zM27 12h1v1h-1zM33 12h1v1h-1zM57 12h1v1h-1zM1 13h1v1h-1zM4 13h1v1h-1zM7 13h1v1h-1zM37 13h1v1h-1zM43 13h2v1h-2zM50 13h1v1h-1zM6 14h1v1h-1zM11 14h1v1h-1zM13 14h1v1h-1zM25 14h1v1h-1zM28 14h1v1h-1zM40 14h1v1h-1zM55 14h1v1h-1zM6 15h1v1h-1zM29 15h1v1h-1zM53 15h1v1h-1zM5 16h2v1h-2zM12 16h1v1h-1zM19 16h2v1h-2zM24 16h1v1h-1zM30 16h1v1h-1zM46 16h2v1h-2zM54 16h2v1h-2zM10 17h3v1h-3zM22 17h1v1h-1zM31 17h1v1h-1zM46 17h1v1h-1zM56 17h1v1h-1zM59 17h1v1h-1zM1 18h1v1h-1zM4 18h1v1h-1zM6 18h1v1h-1zM8 18h1v1h-1zM10 18h1v1h-1zM30 18h1v1h-1zM37 18h1v1h-1zM46 18h2v1h-2zM55 18h1v1h-1zM9 19h1v1h-1zM11 19h1v1h-1zM17 19h1v1h-1zM23 19h1v1h-1zM45 19h1v1h-1zM49 19h1v1h-1zM8 20h1v1h-1zM19 20h1v1h-1zM30 20h1v1h-1zM46 20h1v1h-1zM59 20h1v1h-1zM7 21h1v1h-1zM39 21h1v1h-1zM42 21h1v1h-1zM47 21h1v1h-1zM17 22h1v1h-1zM33 22h1v1h-1zM38 22h2v1h-2zM49 22h1v1h-1zM2 23h1v1h-1zM36 23h1v1h-1zM42 23h1v1h-1zM48 23h1v1h-1zM55 23h1v1h-1zM29 24h1v1h-1zM32 24h1v1h-1zM37 24h1v1h-1zM41 24h1v1h-1zM4 25h1v1h-1zM12 25h1v1h-1zM14 25h2v1h-2zM22 25h1v1h-1zM29 25h1v1h-1zM47 25h1v1h-1zM49 25h1v1h-1zM54 25h1v1h-1zM1 26h2v1h-2zM22 26h1v1h-1zM26 26h1v1h-1zM32 26h1v1h-1zM43 26h2v1h-2zM8 27h1v1h-1zM11 27h1v1h-1zM14 27h1v1h-1zM19 27h1v1h-1zM34 27h1v1h-1zM38 27h1v1h-1zM54 27h1v1h-1zM4 28h3v1h-3zM20 28h1v1h-1zM32 28h2v1h-2zM46 28h1v1h-1zM50 28h1v1h-1zM53 28h1v1h-1zM12 29h1v1h-1zM14 29h1v1h-1zM18 29h1v1h-1zM37 29h1v1h-1zM50 29h1v1h-1zM6 30h1v1h-1zM8 30h1v1h-1zM12 30h1v1h-1zM15 30h1v1h-1zM44 30h1v1h-1zM48 30h1v1h-1zM0 31h1v1h-1zM2 31h1v1h-1zM6 31h1v1h-1zM24 31h1v1h-1zM28 31h1v1h-1zM31 31h1v1h-1zM33 31h2v1h-2zM48 31h1v1h-1zM2 32h1v1h-1zM5 32h1v1h-1zM12 32h1v1h-1zM15 32h1v1h-1zM28 32h2v1h-2zM38 32h1v1h-1zM47 32h1v1h-1zM51 32h1v1h-1zM57 32h1v1h-1zM5 33h1v1h-1zM9 33h1v1h-1zM16 33h1v1h-1zM22 33h2v1h-2zM29 33h4v1h-4zM40 33h1v1h-1zM6 34h1v1h-1zM10 34h1v1h-1zM14 34h1v1h-1zM24 34h2v1h-2zM36 34h1v1h-1zM41 34h1v1h-1zM51 34h1v1h-1zM6 35h2v1h-2zM24 35h1v1h-1zM40 35h1v1h-1zM58 35h1v1h-1zM8 36h1v1h-1zM16 36h1v1h-1zM28 36h1v1h-1zM33 36h1v1h-1zM36 36h1v1h-1zM58 36h1v1h-1zM2 37h1v1h-1zM11 37h1v1h-1zM16 37h1v1h-1zM42 37h1v1h-1zM11 38h1v1h-1zM13 38h1v1h-1zM18 38h1v1h-1zM45 38h2v1h-2zM52 38h1v1h-1zM54 38h1v1h-1zM57 38h1v1h-1zM2 39h1v1h-1zM5 39h1v1h-1zM22 39h3v1h-3zM26 39h1v1h-1zM41 39h1v1h-1zM51 39h2v1h-2zM58 39h1v1h-1zM1 40h1v1h-1zM6 40h1v1h-1zM9 40h1v1h-1zM37 40h1v1h-1zM47 40h1v1h-1zM54 40h2v1h-2zM1 41h1v1h-1zM6 41h1v1h-1zM9 41h1v1h-1zM12 41h1v1h-1zM19 41h2v1h-2zM26 41h1v1h-1zM30 41h2v1h-2zM35 41h1v1h-1zM51 41h1v1h-1zM53 41h1v1h-1zM55 41h1v1h-1zM27 42h1v1h-1zM31 42h1v1h-1zM33 42h1v1h-1zM40 42h1v1h-1zM43 42h1v1h-1zM46 42h1v1h-1zM52 42h1v1h-1zM55 42h1v1h-1zM4 43h1v1h-1zM34 43h1v1h-1zM49 43h1v1h-1zM28 44h1v1h-1zM30 44h1v1h-1zM32 44h2v1h-2zM39 44h2v1h-2zM50 44h1v1h-1zM12 45h1v1h-1zM41 45h1v1h-1zM8 46h1v1h-1zM11 46h1v1h-1zM14 46h1v1h-1zM17 46h2v1h-2zM24 46h1v1h-1zM33 46h2v1h-2zM37 46h1v1h-1zM49 46h1v1h-1zM53 46h1v1h-1zM56 46h1v1h-1zM2 47h1v1h-1zM4 47h2v1h-2zM37 47h1v1h-1zM43 47h1v1h-1zM56 47h1v1h-1zM1 48h1v1h-1zM9 48h1v1h-1zM22 48h1v1h-1zM30 48h1v1h-1zM54 48h1v1h-1zM57 48h1v1h-1zM2 49h1v1h-1zM4 49h1v1h-1zM18 49h1v1h-1zM20 49h2v1h-2zM24 49h1v1h-1zM35 49h1v1h-1zM37 49h1v1h-1zM44 49h1v1h-1zM48 49h1v1h-1zM3 50h1v1h-1zM6 50h1v1h-1zM12 50h1v1h-1zM20 50h1v1h-1zM24 50h1v1h-1zM46 50h1v1h-1zM48 50h1v1h-1zM59 50h1v1h-1zM3 51h2v1h-2zM11 51h1v1h-1zM15 51h1v1h-1zM45 51h1v1h-1zM51 51h1v1h-1zM11 52h1v1h-1zM19 52h1v1h-1zM27 52h1v1h-1zM31 52h1v1h-1zM39 52h2v1h-2zM46 52h1v1h-1zM57 52h1v1h-1zM17 53h1v1h-1zM24 53h3v1h-3zM35 53h1v1h-1zM44 53h1v1h-1zM1 54h1v1h-1zM5 54h1v1h-1zM9 54h1v1h-1zM21 54h1v1h-1zM26 54h1v1h-1zM31 54h1v1h-1zM46 54h1v1h-1zM55 54h3v1h-3zM9 55h1v1h-1zM19 55h1v1h-1zM26 55h1v1h-1zM48 55h1v1h-1zM50 55h1v1h-1zM55 55h1v1h-1zM3 56h1v1h-1zM12 56h1v1h-1zM17 56h1v1h-1zM19 56h1v1h-1zM24 56h1v1h-1zM29 56h1v1h-1zM47 56h1v1h-1zM1 57h2v1h-2zM4 57h1v1h-1zM10 57h1v1h-1zM15 57h1v1h-1zM26 57h1v1h-1zM35 57h1v1h-1zM50 57h2v1h-2zM53 57h1v1h-1zM58 57h1v1h-1zM4 58h1v1h-1zM17 58h1v1h-1zM20 58h2v1h-2zM51 58h1v1h-1zM44 59h1v1h-1zM54 59h1v1h-1zM56 59h1v1h-1z"/>
<path fill="#3c3c3c" d="M7 0h1v1h-1zM9 0h1v1h-1zM20 0h1v1h-1zM28 0h1v1h-1zM39 0h1v1h-1zM14 1h1v1h-1zM22 1h1v1h-1zM24 1h1v1h-1zM37 1h2v1h-2zM40 1h1v1h-1zM43 1h1v1h-1zM52 1h1v1h-1zM58 1h1v1h-1zM8 2h1v1h-1zM14 2h1v1h-1zM33 2h1v1h-1zM56 2h2v1h-2zM7 3h1v1h-1zM33 3h1v1h-1zM39 3h2v1h-2zM59 3h1v1h-1zM5 4h1v1h-1zM20 4h1v1h-1zM50 4h1v1h-1zM56 4h1v1h-1zM22 5h1v1h-1zM34 5h1v1h-1zM41 5h1v1h-1zM47 5h1v1h-1zM55 5h1v1h-1zM57 5h1v1h-1zM12 6h1v1h-1zM20 7h1v1h-1zM23 7h1v1h-1zM38 7h2v1h-2zM48 8h1v1h-1zM50 8h1v1h-1zM57 8h1v1h-1zM59 8h1v1h-1zM33 9h1v1h-1zM40 9h1v1h-1zM47 9h1v1h-1zM55 9h1v1h-1zM23 10h1v1h-1zM30 10h1v1h-1zM51 10h1v1h-1zM59 10h1v1h-1zM2 11h2v1h-2zM21 11h1v1h-1zM24 11h1v1h-1zM31 11h1v1h-1zM45 11h1v1h-1zM4 12h2v1h-2zM8 12h2v1h-2zM20 12h1v1h-1zM22 12h1v1h-1zM38 12h1v1h-1zM52 12h1v1h-1zM2 13h1v1h-1zM6 13h1v1h-1zM14 13h2v1h-2zM17 13h1v1h-1zM20 13h1v1h-1zM22 13h1v1h-1zM24 13h1v1h-1zM36 13h1v1h-1zM40 13h1v1h-1zM54 13h1v1h-1zM19 14h1v1h-1zM24 14h1v1h-1zM35 14h1v1h-1zM48 14h1v1h-1zM0 15h1v1h-1zM22 15h1v1h-1zM24 15h1v1h-1zM52 15h1v1h-1zM1 16h1v1h-1zM15 16h1v1h-1zM25 16h1v1h-1zM39 16h1v1h-1zM51 16h1v1h-1zM53 16h1v1h-1zM1 17h1v1h-1zM4 17h2v1h-2zM14 17h2v1h-2zM24 17h1v1h-1zM26 17h1v1h-1zM51 17h2v1h-2zM18 18h1v1h-1zM34 18h1v1h-1zM42 18h1v1h-1zM52 18h1v1h-1zM59 18h1v1h-1zM0 19h1v1h-1zM2 19h1v1h-1zM4 19h1v1h-1zM15 19h1v1h-1zM25 19h1v1h-1zM28 19h2v1h-2zM56 19h1v1h-1zM0 20h2v1h-2zM33 20h1v1h-1zM47 20h1v1h-1zM54 20h1v1h-1zM12 21h1v1h-1zM33 21h1v1h-1zM35 21h1v1h-1zM38 21h1v1h-1zM58 21h1v1h-1zM0 22h1v1h-1zM2 22h1v1h-1zM4 22h1v1h-1zM23 22h1v1h-1zM26 22h1v1h-1zM14 23h1v1h-1zM28 23h1v1h-1zM34 23h1v1h-1zM45 23h1v1h-1zM52 23h1v1h-1zM3 24h1v1h-1zM6 24h1v1h-1zM9 24h1v1h-1zM12 24h1v1h-1zM15 24h1v1h-1zM27 24h1v1h-1zM42 24h1v1h-1zM49 24h1v1h-1zM51 24h1v1h-1zM54 24h1v1h-1zM6 25h1v1h-1zM18 25h1v1h-1zM20 25h1v1h-1zM23 25h1v1h-1zM41 25h1v1h-1zM45 25h1v1h-1zM48 25h1v1h-1zM7 26h1v1h-1zM10 26h1v1h-1zM19 26h1v1h-1zM36 26h1v1h-1zM40 26h1v1h-1zM52 26h1v1h-1zM56 26h1v1h-1zM12 27h1v1h-1zM57 27h1v1h-1zM7 28h1v1h-1zM36 28h1v1h-1zM42 28h1v1h-1zM44 28h2v1h-2zM52 28h1v1h-1zM22 30h1v1h-1zM38 30h1v1h-1zM42 30h1v1h-1zM55 30h1v1h-1zM12 31h1v1h-1zM22 31h1v1h-1zM53 31h1v1h-1zM56 31h1v1h-1zM7 32h1v1h-1zM9 32h1v1h-1zM46 32h1v1h-1zM49 32h1v1h-1zM8 33h1v1h-1zM15 33h1v1h-1zM39 33h1v1h-1zM47 33h1v1h-1zM2 34h1v1h-1zM8 34h1v1h-1zM44 34h1v1h-1zM47 34h1v1h-1zM59 34h1v1h-1zM1 35h1v1h-1zM17 35h1v1h-1zM20 35h1v1h-1zM22 35h2v1h-2zM37 35h1v1h-1zM45 35h1v1h-1zM55 35h2v1h-2zM0 36h1v1h-1zM15 36h1v1h-1zM25 36h1v1h-1zM34 36h1v1h-1zM43 36h1v1h-1zM48 36h2v1h-2zM54 36h2v1h-2zM57 36h1v1h-1zM0 37h1v1h-1zM3 37h1v1h-1zM10 37h1v1h-1zM15 37h1v1h-1zM25 37h2v1h-2zM33 37h1v1h-1zM52 37h1v1h-1zM57 37h1v1h-1zM2 38h1v1h-1zM9 38h1v1h-1zM12 38h1v1h-1zM19 38h1v1h-1zM23 38h1v1h-1zM30 38h1v1h-1zM44 38h1v1h-1zM0 39h1v1h-1zM3 39h2v1h-2zM19 39h1v1h-1zM0 40h1v1h-1zM4 40h1v1h-1zM10 40h2v1h-2zM38 40h1v1h-1zM5 41h1v1h-1zM24 41h1v1h-1zM48 41h1v1h-1zM57 41h1v1h-1zM8 42h1v1h-1zM20 42h1v1h-1zM23 42h1v1h-1zM30 42h1v1h-1zM53 42h1v1h-1zM27 43h1v1h-1zM43 43h1v1h-1zM50 43h1v1h-1zM1 44h1v1h-1zM7 44h1v1h-1zM13 44h1v1h-1zM25 44h1v1h-1zM34 44h1v1h-1zM36 44h1v1h-1zM51 44h2v1h-2zM9 45h1v1h-1zM13 45h1v1h-1zM25 45h1v1h-1zM33 45h1v1h-1zM35 45h1v1h-1zM43 45h1v1h-1zM53 45h1v1h-1zM4 46h1v1h-1zM9 46h1v1h-1zM25 46h1v1h-1zM29 46h1v1h-1zM32 46h1v1h-1zM52 46h1v1h-1zM58 46h2v1h-2zM7 47h1v1h-1zM24 47h2v1h-2zM41 47h1v1h-1zM51 47h1v1h-1zM45 48h2v1h-2zM16 49h1v1h-1zM43 49h1v1h-1zM59 49h1v1h-1zM17 50h1v1h-1zM22 50h1v1h-1zM25 50h1v1h-1zM31 50h1v1h-1zM41 50h3v1h-3zM8 51h1v1h-1zM16 51h1v1h-1zM22 51h1v1h-1zM55 51h1v1h-1zM5 52h2v1h-2zM43 52h1v1h-1zM48 52h1v1h-1zM55 52h1v1h-1zM6 53h1v1h-1zM8 53h5v1h-5zM18 53h1v1h-1zM29 53h1v1h-1zM31 53h1v1h-1zM57 53h1v1h-1zM2 54h1v1h-1zM12 54h1v1h-1zM14 54h1v1h-1zM16 54h1v1h-1zM32 54h1v1h-1zM35 54h1v1h-1zM44 54h1v1h-1zM7 55h2v1h-2zM16 55h1v1h-1zM28 55h2v1h-2zM32 55h1v1h-1zM34 55h1v1h-1zM36 55h1v1h-1zM39 55h2v1h-2zM45 55h1v1h-1zM15 56h1v1h-1zM35 56h1v1h-1zM38 56h1v1h-1zM41 56h3v1h-3zM51 56h1v1h-1zM59 56h1v1h-1zM5 57h1v1h-1zM9 57h1v1h-1zM19 57h1v1h-1zM27 57h1v1h-1zM34 57h1v1h-1zM41 57h2v1h-2zM59 57h1v1h-1zM27 58h2v1h-2zM41 58h1v1h-1zM53 58h1v1h-1zM6 59h1v1h-1zM8 59h1v1h-1zM16 59h1v1h-1z"/>
<path fill="#424242" d="M8 0h1v1h-1zM27 0h1v1h-1zM49 0h2v1h-2zM58 0h1v1h-1zM12 1h1v1h-1zM16 1h1v1h-1zM25 1h1v1h-1zM27 1h1v1h-1zM18 2h1v1h-1zM53 2h1v1h-1zM53 3h1v1h-1zM57 3h1v1h-1zM0 4h1v1h-1zM21 4h2v1h-2zM37 4h1v1h-1zM45 4h1v1h-1zM49 4h1v1h-1zM14 5h1v1h-1zM44 5h1v1h-1zM46 5h1v1h-1zM6 6h1v1h-1zM11 6h1v1h-1zM13 6h1v1h-1zM18 6h1v1h-1zM41 6h1v1h-1zM56 6h1v1h-1zM11 7h1v1h-1zM21 7h1v1h-1zM42 7h1v1h-1zM45 7h1v1h-1zM59 7h1v1h-1zM8 8h1v1h-1zM17 8h1v1h-1zM20 8h2v1h-2zM24 8h1v1h-1zM31 8h1v1h-1zM30 9h1v1h-1zM56 9h1v1h-1zM59 9h1v1h-1zM0 10h1v1h-1zM7 10h2v1h-2zM11 10h1v1h-1zM13 10h1v1h-1zM18 10h1v1h-1zM26 10h1v1h-1zM28 10h1v1h-1zM36 10h1v1h-1zM56 10h1v1h-1zM6 11h1v1h-1zM13 11h1v1h-1zM17 11h1v1h-1zM19 11h1v1h-1zM23 11h1v1h-1zM25 11h1v1h-1zM51 11h1v1h-1zM18 12h1v1h-1zM46 12h1v1h-1zM51 12h1v1h-1zM53 12h2v1h-2zM8 13h1v1h-1zM18 13h1v1h-1zM23 13h1v1h-1zM45 13h1v1h-1zM46 14h1v1h-1zM2 15h1v1h-1zM10 15h2v1h-2zM19 15h1v1h-1zM21 15h1v1h-1zM36 15h1v1h-1zM54 15h1v1h-1zM0 16h1v1h-1zM3 16h1v1h-1zM21 16h1v1h-1zM29 16h1v1h-1zM43 16h1v1h-1zM33 17h1v1h-1zM36 17h1v1h-1zM44 17h1v1h-1zM22 18h1v1h-1zM25 18h1v1h-1zM32 18h1v1h-1zM36 18h1v1h-1zM43 18h1v1h-1zM51 18h1v1h-1zM16 19h1v1h-1zM33 19h1v1h-1zM5 20h1v1h-1zM16 20h1v1h-1zM32 20h1v1h-1zM52 20h1v1h-1zM57 20h2v1h-2zM6 21h1v1h-1zM15 21h2v1h-2zM13 22h1v1h-1zM19 22h1v1h-1zM22 22h1v1h-1zM24 22h1v1h-1zM31 22h1v1h-1zM5 23h1v1h-1zM16 23h1v1h-1zM18 23h1v1h-1zM20 23h2v1h-2zM25 23h1v1h-1zM35 23h1v1h-1zM46 23h1v1h-1zM13 24h1v1h-1zM16 24h1v1h-1zM18 24h1v1h-1zM20 24h1v1h-1zM24 24h1v1h-1zM31 24h1v1h-1zM33 24h1v1h-1zM43 24h4v1h-4zM53 24h1v1h-1zM2 25h2v1h-2zM5 25h1v1h-1zM10 25h1v1h-1zM26 25h1v1h-1zM28 25h1v1h-1zM42 25h1v1h-1zM5 26h1v1h-1zM12 26h1v1h-1zM24 26h2v1h-2zM35 26h1v1h-1zM39 26h1v1h-1zM46 26h1v1h-1zM1 27h1v1h-1zM33 27h1v1h-1zM35 27h2v1h-2zM40 27h1v1h-1zM12 28h1v1h-1zM14 28h1v1h-1zM16 28h2v1h-2zM37 28h2v1h-2zM47 28h1v1h-1zM0 29h1v1h-1zM2 29h1v1h-1zM5 29h2v1h-2zM13 29h1v1h-1zM15 29h1v1h-1zM17 29h1v1h-1zM22 29h2v1h-2zM28 29h1v1h-1zM52 29h1v1h-1zM55 29h1v1h-1zM13 30h1v1h-1zM23 30h1v1h-1zM31 30h1v1h-1zM7 31h1v1h-1zM17 31h2v1h-2zM25 31h2v1h-2zM29 31h1v1h-1zM43 31h1v1h-1zM54 31h1v1h-1zM1 32h1v1h-1zM8 32h1v1h-1zM44 32h2v1h-2zM48 32h1v1h-1zM2 33h1v1h-1zM7 33h1v1h-1zM18 33h1v1h-1zM26 33h1v1h-1zM28 33h1v1h-1zM37 33h1v1h-1zM43 33h1v1h-1zM46 33h1v1h-1zM7 34h1v1h-1zM11 34h1v1h-1zM26 34h1v1h-1zM29 34h1v1h-1zM37 34h1v1h-1zM30 35h1v1h-1zM39 35h1v1h-1zM42 35h1v1h-1zM44 35h1v1h-1zM48 35h1v1h-1zM57 35h1v1h-1zM14 36h1v1h-1zM35 36h1v1h-1zM38 36h1v1h-1zM45 36h1v1h-1zM14 37h1v1h-1zM21 37h1v1h-1zM17 38h1v1h-1zM41 38h1v1h-1zM1 39h1v1h-1zM10 39h1v1h-1zM12 39h1v1h-1zM15 39h1v1h-1zM33 39h2v1h-2zM36 39h1v1h-1zM54 39h1v1h-1zM5 40h1v1h-1zM20 40h1v1h-1zM39 40h1v1h-1zM43 40h1v1h-1zM50 40h1v1h-1zM56 40h1v1h-1zM0 41h1v1h-1zM15 41h1v1h-1zM33 41h1v1h-1zM38 41h1v1h-1zM40 41h1v1h-1zM43 41h1v1h-1zM58 41h1v1h-1zM0 42h2v1h-2zM12 42h1v1h-1zM16 42h1v1h-1zM34 42h1v1h-1zM39 42h1v1h-1zM0 43h1v1h-1zM3 43h1v1h-1zM9 43h1v1h-1zM14 43h2v1h-2zM46 43h1v1h-1zM3 44h1v1h-1zM14 44h1v1h-1zM18 44h1v1h-1zM26 44h1v1h-1zM31 44h1v1h-1zM47 44h1v1h-1zM54 44h1v1h-1zM0 45h1v1h-1zM8 45h1v1h-1zM54 45h1v1h-1zM59 45h1v1h-1zM20 46h1v1h-1zM35 46h2v1h-2zM57 46h1v1h-1zM1 47h1v1h-1zM12 47h1v1h-1zM19 47h1v1h-1zM21 47h2v1h-2zM54 47h1v1h-1zM6 48h2v1h-2zM13 48h1v1h-1zM20 48h1v1h-1zM7 49h1v1h-1zM15 49h1v1h-1zM17 49h1v1h-1zM27 49h1v1h-1zM30 49h1v1h-1zM1 50h1v1h-1zM4 50h1v1h-1zM40 50h1v1h-1zM9 51h1v1h-1zM13 51h1v1h-1zM17 51h1v1h-1zM24 51h1v1h-1zM34 51h1v1h-1zM52 51h1v1h-1zM8 52h1v1h-1zM25 52h1v1h-1zM34 52h1v1h-1zM37 52h1v1h-1zM45 52h1v1h-1zM36 53h1v1h-1zM55 53h1v1h-1zM58 53h2v1h-2zM0 54h1v1h-1zM8 54h1v1h-1zM10 54h1v1h-1zM13 54h1v1h-1zM19 54h1v1h-1zM51 54h1v1h-1zM10 55h1v1h-1zM12 55h1v1h-1zM49 55h1v1h-1zM2 56h1v1h-1zM10 56h1v1h-1zM25 56h1v1h-1zM23 57h1v1h-1zM30 57h1v1h-1zM23 58h2v1h-2zM30 58h1v1h-1zM42 58h1v1h-1zM49 58h1v1h-1zM4 59h1v1h-1zM9 59h1v1h-1zM42 59h1v1h-1zM48 59h2v1h-2z"/>
<path fill="#484848" d="M5 0h1v1h-1zM24 0h1v1h-1zM53 0h1v1h-1zM4 1h1v1h-1zM8 1h1v1h-1zM15 1h1v1h-1zM55 1h1v1h-1zM4 2h1v1h-1zM9 2h1v1h-1zM28 2h1v1h-1zM39 2h2v1h-2zM36 3h1v1h-1zM41 3h1v1h-1zM52 3h1v1h-1zM12 4h1v1h-1zM53 4h1v1h-1zM9 5h2v1h-2zM13 5h1v1h-1zM1 6h1v1h-1zM7 6h1v1h-1zM34 6h1v1h-1zM45 6h1v1h-1zM59 6h1v1h-1zM24 7h1v1h-1zM41 7h1v1h-1zM47 7h1v1h-1zM56 7h1v1h-1zM0 8h1v1h-1zM14 8h1v1h-1zM18 8h1v1h-1zM32 8h1v1h-1zM34 8h1v1h-1zM45 8h1v1h-1zM56 8h1v1h-1zM0 9h1v1h-1zM5 9h2v1h-2zM12 10h1v1h-1zM14 10h1v1h-1zM19 10h1v1h-1zM1 11h1v1h-1zM27 11h1v1h-1zM32 11h1v1h-1zM48 11h1v1h-1zM52 11h1v1h-1zM0 12h1v1h-1zM16 12h2v1h-2zM23 12h1v1h-1zM0 13h1v1h-1zM5 13h1v1h-1zM19 13h1v1h-1zM4 14h1v1h-1zM15 14h1v1h-1zM22 14h1v1h-1zM36 14h1v1h-1zM39 14h1v1h-1zM57 14h1v1h-1zM35 15h1v1h-1zM44 15h1v1h-1zM34 16h1v1h-1zM44 16h1v1h-1zM34 17h1v1h-1zM42 17h1v1h-1zM49 17h2v1h-2zM54 17h1v1h-1zM0 18h1v1h-1zM5 18h1v1h-1zM17 18h1v1h-1zM20 18h1v1h-1zM24 18h1v1h-1zM31 18h1v1h-1zM53 18h2v1h-2zM10 19h1v1h-1zM21 19h1v1h-1zM24 19h1v1h-1zM30 19h1v1h-1zM32 19h1v1h-1zM15 20h1v1h-1zM29 20h1v1h-1zM31 20h1v1h-1zM48 20h2v1h-2zM53 20h1v1h-1zM10 21h1v1h-1zM34 21h1v1h-1zM48 21h1v1h-1zM5 22h1v1h-1zM18 22h1v1h-1zM29 22h1v1h-1zM42 22h2v1h-2zM12 23h1v1h-1zM58 23h1v1h-1zM2 24h1v1h-1zM47 24h1v1h-1zM57 24h2v1h-2zM21 25h1v1h-1zM31 25h2v1h-2zM43 25h1v1h-1zM53 25h1v1h-1zM8 26h1v1h-1zM29 26h1v1h-1zM58 26h1v1h-1zM0 27h1v1h-1zM2 27h1v1h-1zM47 27h1v1h-1zM3 28h1v1h-1zM49 28h1v1h-1zM1 29h1v1h-1zM16 29h1v1h-1zM7 30h1v1h-1zM16 30h1v1h-1zM18 30h1v1h-1zM54 30h1v1h-1zM23 31h1v1h-1zM44 31h1v1h-1zM52 31h1v1h-1zM0 32h1v1h-1zM6 32h1v1h-1zM13 32h1v1h-1zM26 32h1v1h-1zM42 32h1v1h-1zM12 33h1v1h-1zM19 34h1v1h-1zM43 34h1v1h-1zM0 35h1v1h-1zM10 35h3v1h-3zM14 35h1v1h-1zM26 35h1v1h-1zM38 35h1v1h-1zM43 35h1v1h-1zM49 35h1v1h-1zM12 36h1v1h-1zM23 36h1v1h-1zM41 36h1v1h-1zM9 37h1v1h-1zM12 37h1v1h-1zM40 37h1v1h-1zM44 37h1v1h-1zM46 37h1v1h-1zM0 38h1v1h-1zM8 38h1v1h-1zM34 38h1v1h-1zM36 38h1v1h-1zM11 39h1v1h-1zM25 39h1v1h-1zM30 39h1v1h-1zM24 40h1v1h-1zM26 40h1v1h-1zM42 40h1v1h-1zM51 40h2v1h-2zM4 41h1v1h-1zM17 41h1v1h-1zM25 41h1v1h-1zM42 41h1v1h-1zM56 41h1v1h-1zM2 42h1v1h-1zM6 42h2v1h-2zM14 42h1v1h-1zM17 42h1v1h-1zM29 42h1v1h-1zM51 42h1v1h-1zM17 43h1v1h-1zM19 43h1v1h-1zM45 43h1v1h-1zM59 43h1v1h-1zM27 44h1v1h-1zM58 44h1v1h-1zM14 45h1v1h-1zM32 45h1v1h-1zM36 45h1v1h-1zM42 45h1v1h-1zM0 46h1v1h-1zM6 46h1v1h-1zM26 46h2v1h-2zM39 46h1v1h-1zM41 46h1v1h-1zM43 46h1v1h-1zM45 46h2v1h-2zM3 47h1v1h-1zM36 47h1v1h-1zM42 47h1v1h-1zM55 47h1v1h-1zM2 48h1v1h-1zM4 48h1v1h-1zM12 48h1v1h-1zM19 48h1v1h-1zM35 48h1v1h-1zM37 48h1v1h-1zM3 49h1v1h-1zM6 49h1v1h-1zM19 49h1v1h-1zM36 49h1v1h-1zM38 49h1v1h-1zM42 49h1v1h-1zM56 49h1v1h-1zM15 50h1v1h-1zM23 50h1v1h-1zM30 50h1v1h-1zM47 50h1v1h-1zM1 51h1v1h-1zM46 51h1v1h-1zM48 51h1v1h-1zM9 52h1v1h-1zM17 52h1v1h-1zM22 52h1v1h-1zM26 52h1v1h-1zM35 52h1v1h-1zM47 52h1v1h-1zM56 52h1v1h-1zM37 53h1v1h-1zM11 54h1v1h-1zM15 54h1v1h-1zM30 54h1v1h-1zM49 54h1v1h-1zM54 54h1v1h-1zM54 55h1v1h-1zM34 56h1v1h-1zM39 56h1v1h-1zM54 56h1v1h-1zM11 57h1v1h-1zM47 57h1v1h-1zM6 58h2v1h-2zM9 58h1v1h-1zM19 59h1v1h-1z"/>
<path fill="#4e4e4e" d="M4 0h1v1h-1zM3 1h1v1h-1zM17 1h1v1h-1zM19 1h1v1h-1zM36 1h1v1h-1zM3 2h1v1h-1zM54 2h1v1h-1zM1 4h1v1h-1zM8 4h1v1h-1zM11 4h1v1h-1zM52 4h1v1h-1zM1 5h1v1h-1zM12 7h1v1h-1zM34 7h1v1h-1zM23 8h1v1h-1zM7 9h2v1h-2zM27 10h1v1h-1zM32 10h1v1h-1zM5 11h1v1h-1zM38 11h1v1h-1zM48 12h1v1h-1zM58 12h1v1h-1zM13 13h1v1h-1zM25 13h2v1h-2zM57 13h1v1h-1zM5 14h1v1h-1zM16 14h1v1h-1zM39 15h1v1h-1zM35 16h1v1h-1zM20 17h1v1h-1zM55 17h1v1h-1zM7 18h1v1h-1zM5 19h2v1h-2zM8 19h1v1h-1zM7 20h1v1h-1zM10 20h1v1h-1zM36 21h2v1h-2zM10 22h2v1h-2zM35 22h1v1h-1zM58 22h1v1h-1zM43 23h1v1h-1zM17 24h1v1h-1zM7 25h1v1h-1zM33 25h1v1h-1zM44 25h1v1h-1zM52 25h1v1h-1zM31 26h1v1h-1zM47 26h1v1h-1zM3 27h1v1h-1zM20 27h2v1h-2zM26 27h1v1h-1zM32 27h1v1h-1zM39 27h1v1h-1zM46 27h1v1h-1zM13 28h1v1h-1zM40 28h1v1h-1zM7 29h1v1h-1zM26 29h1v1h-1zM54 29h1v1h-1zM40 30h1v1h-1zM49 30h1v1h-1zM13 31h1v1h-1zM27 31h1v1h-1zM51 31h1v1h-1zM55 31h1v1h-1zM27 32h1v1h-1zM30 32h1v1h-1zM43 32h1v1h-1zM1 33h1v1h-1zM6 33h1v1h-1zM19 33h1v1h-1zM27 33h1v1h-1zM53 33h1v1h-1zM1 34h1v1h-1zM12 34h2v1h-2zM28 34h1v1h-1zM31 35h1v1h-1zM11 36h1v1h-1zM21 36h1v1h-1zM26 36h1v1h-1zM8 37h1v1h-1zM17 37h1v1h-1zM22 37h2v1h-2zM34 37h1v1h-1zM36 37h1v1h-1zM58 37h1v1h-1zM3 38h1v1h-1zM20 38h1v1h-1zM58 38h1v1h-1zM21 40h1v1h-1zM48 40h1v1h-1zM13 41h2v1h-2zM13 42h1v1h-1zM58 42h1v1h-1zM5 43h3v1h-3zM18 43h1v1h-1zM9 44h1v1h-1zM35 44h1v1h-1zM57 44h1v1h-1zM31 45h1v1h-1zM39 45h1v1h-1zM55 45h1v1h-1zM58 45h1v1h-1zM13 47h1v1h-1zM35 47h1v1h-1zM40 47h1v1h-1zM45 47h2v1h-2zM56 48h1v1h-1zM39 49h1v1h-1zM16 50h1v1h-1zM18 50h1v1h-1zM39 50h1v1h-1zM12 51h1v1h-1zM31 51h1v1h-1zM24 52h1v1h-1zM36 52h1v1h-1zM5 53h1v1h-1zM14 53h2v1h-2zM22 53h1v1h-1zM30 53h1v1h-1zM56 53h1v1h-1zM45 54h1v1h-1zM59 54h1v1h-1zM21 56h1v1h-1zM48 56h1v1h-1zM50 56h1v1h-1zM8 57h1v1h-1zM21 57h1v1h-1zM28 57h1v1h-1zM56 57h1v1h-1zM26 58h1v1h-1zM56 58h1v1h-1zM53 59h1v1h-1z"/>
<path fill="#545454" d="M16 0h1v1h-1zM26 0h1v1h-1zM11 1h1v1h-1zM28 1h1v1h-1zM39 1h1v1h-1zM53 1h1v1h-1zM15 2h1v1h-1zM37 2h1v1h-1zM37 3h1v1h-1zM32 6h1v1h-1zM1 7h1v1h-1zM5 7h1v1h-1zM12 8h1v1h-1zM15 8h1v1h-1zM15 9h1v1h-1zM18 9h1v1h-1zM34 10h2v1h-2zM4 11h1v1h-1zM26 11h1v1h-1zM35 11h1v1h-1zM46 11h2v1h-2zM2 12h1v1h-1zM21 14h1v1h-1zM58 14h2v1h-2zM16 15h1v1h-1zM3 17h1v1h-1zM43 17h1v1h-1zM2 21h1v1h-1zM4 21h1v1h-1zM11 21h1v1h-1zM29 21h1v1h-1zM57 21h1v1h-1zM3 22h1v1h-1zM12 22h1v1h-1zM56 22h1v1h-1zM13 23h1v1h-1zM56 23h1v1h-1zM7 24h2v1h-2zM22 24h2v1h-2zM28 24h1v1h-1zM48 24h1v1h-1zM8 25h1v1h-1zM11 25h1v1h-1zM24 25h1v1h-1zM20 26h1v1h-1zM30 26h1v1h-1zM57 26h1v1h-1zM0 28h1v1h-1zM2 28h1v1h-1zM39 28h1v1h-1zM41 28h1v1h-1zM48 28h1v1h-1zM38 29h1v1h-1zM42 29h1v1h-1zM47 29h1v1h-1zM39 30h1v1h-1zM41 30h1v1h-1zM0 33h1v1h-1zM53 34h1v1h-1zM29 35h1v1h-1zM9 36h1v1h-1zM13 36h1v1h-1zM19 36h1v1h-1zM22 36h1v1h-1zM27 36h1v1h-1zM39 36h1v1h-1zM13 37h1v1h-1zM18 37h2v1h-2zM35 37h1v1h-1zM41 37h1v1h-1zM45 37h1v1h-1zM21 39h1v1h-1zM31 39h1v1h-1zM16 40h1v1h-1zM33 40h1v1h-1zM49 40h1v1h-1zM49 41h1v1h-1zM59 41h1v1h-1zM59 42h1v1h-1zM1 43h1v1h-1zM44 43h1v1h-1zM51 43h1v1h-1zM53 43h2v1h-2zM2 44h1v1h-1zM19 44h1v1h-1zM43 44h1v1h-1zM26 45h2v1h-2zM40 45h1v1h-1zM44 45h1v1h-1zM56 45h2v1h-2zM51 46h1v1h-1zM6 47h1v1h-1zM26 49h1v1h-1zM40 49h1v1h-1zM27 50h1v1h-1zM38 50h1v1h-1zM19 51h1v1h-1zM23 51h1v1h-1zM25 51h1v1h-1zM27 51h1v1h-1zM30 51h1v1h-1zM35 51h2v1h-2zM12 52h1v1h-1zM45 53h1v1h-1zM58 54h1v1h-1zM21 55h1v1h-1zM20 56h1v1h-1zM28 56h1v1h-1zM49 56h1v1h-1zM24 57h1v1h-1zM49 57h1v1h-1zM8 58h1v1h-1zM26 59h1v1h-1z"/>
<path fill="#5a5a5a" d="M54 1h1v1h-1zM33 6h1v1h-1zM4 7h1v1h-1zM7 7h1v1h-1zM7 8h1v1h-1zM13 8h1v1h-1zM47 8h1v1h-1zM17 9h1v1h-1zM34 11h1v1h-1zM1 12h1v1h-1zM13 12h3v1h-3zM47 12h1v1h-1zM59 12h1v1h-1zM48 13h1v1h-1zM47 14h1v1h-1zM1 15h1v1h-1zM15 15h1v1h-1zM37 15h1v1h-1zM2 17h1v1h-1zM21 17h1v1h-1zM33 18h1v1h-1zM3 19h1v1h-1zM4 20h1v1h-1zM30 21h1v1h-1zM30 22h1v1h-1zM34 22h1v1h-1zM17 23h1v1h-1zM58 25h1v1h-1zM21 26h1v1h-1zM27 26h2v1h-2zM54 28h2v1h-2zM48 29h2v1h-2zM17 30h1v1h-1zM26 30h1v1h-1zM13 33h1v1h-1zM0 34h1v1h-1zM27 34h1v1h-1zM42 34h1v1h-1zM17 36h2v1h-2zM40 36h1v1h-1zM31 38h1v1h-1zM35 38h1v1h-1zM35 39h1v1h-1zM34 40h1v1h-1zM34 41h1v1h-1zM2 43h1v1h-1zM52 43h1v1h-1zM55 43h1v1h-1zM58 43h1v1h-1zM8 44h1v1h-1zM56 44h1v1h-1zM45 45h2v1h-2zM41 49h1v1h-1zM55 49h1v1h-1zM18 51h1v1h-1zM18 52h1v1h-1zM54 52h1v1h-1zM13 53h1v1h-1zM23 53h1v1h-1zM20 54h1v1h-1zM11 55h1v1h-1zM20 57h1v1h-1zM5 58h1v1h-1zM48 58h1v1h-1zM5 59h1v1h-1zM18 59h1v1h-1z"/>
<path fill="#606060" d="M19 0h1v1h-1zM25 0h1v1h-1zM8 3h1v1h-1zM10 3h1v1h-1zM0 6h1v1h-1zM6 7h1v1h-1zM5 8h1v1h-1zM33 8h1v1h-1zM46 8h1v1h-1zM32 9h1v1h-1zM15 10h1v1h-1zM31 10h1v1h-1zM14 11h2v1h-2zM33 11h1v1h-1zM21 12h1v1h-1zM24 12h1v1h-1zM26 12h1v1h-1zM21 13h1v1h-1zM38 14h1v1h-1zM25 17h1v1h-1zM2 20h1v1h-1zM23 23h1v1h-1zM57 23h1v1h-1zM25 25h1v1h-1zM57 25h1v1h-1zM11 26h1v1h-1zM1 28h1v1h-1zM42 33h1v1h-1zM28 35h1v1h-1zM20 37h1v1h-1zM16 39h2v1h-2zM56 42h1v1h-1zM8 43h1v1h-1zM56 43h1v1h-1zM55 44h1v1h-1zM40 46h1v1h-1zM50 46h1v1h-1zM55 48h1v1h-1zM19 50h1v1h-1zM13 52h1v1h-1zM23 52h1v1h-1zM11 56h1v1h-1zM17 59h1v1h-1zM25 59h1v1h-1z"/>
<path fill="#666666" d="M9 3h1v1h-1zM56 5h1v1h-1zM0 7h1v1h-1zM32 7h1v1h-1zM46 7h1v1h-1zM6 8h1v1h-1zM16 13h1v1h-1zM58 13h1v1h-1zM37 14h1v1h-1zM52 16h1v1h-1zM37 17h1v1h-1zM22 23h1v1h-1zM52 24h1v1h-1zM19 25h1v1h-1zM29 30h1v1h-1zM10 36h1v1h-1zM20 36h1v1h-1zM20 39h1v1h-1zM17 40h1v1h-1zM57 42h1v1h-1zM57 43h1v1h-1zM49 52h1v1h-1zM51 52h1v1h-1zM54 53h1v1h-1zM20 55h1v1h-1zM35 55h1v1h-1zM48 57h1v1h-1z"/>
<path fill="#6c6c6c" d="M18 1h1v1h-1zM36 2h1v1h-1zM33 7h1v1h-1zM31 9h1v1h-1zM33 10h1v1h-1zM25 12h1v1h-1zM38 15h1v1h-1zM21 18h1v1h-1zM24 23h1v1h-1zM26 28h1v1h-1zM31 28h1v1h-1zM30 31h1v1h-1zM27 35h1v1h-1zM39 41h1v1h-1z"/>
<path fill="#727272" d="M17 0h1v1h-1zM45 5h1v1h-1zM46 13h1v1h-1zM6 20h1v1h-1zM19 23h1v1h-1zM19 24h1v1h-1zM27 30h1v1h-1zM15 42h1v1h-1zM46 44h1v1h-1zM20 47h1v1h-1zM26 51h1v1h-1z"/>
<path fill="#787878" d="M18 0h1v1h-1zM9 4h1v1h-1zM18 11h1v1h-1zM59 13h1v1h-1zM31 19h1v1h-1zM57 22h1v1h-1zM31 27h1v1h-1zM25 40h1v1h-1zM42 46h1v1h-1zM53 51h1v1h-1zM52 52h1v1h-1zM52 54h2v1h-2z"/>
<path fill="#7e7e7e" d="M28 27h1v1h-1zM13 35h1v1h-1zM45 44h1v1h-1zM3 48h1v1h-1zM36 48h1v1h-1zM26 50h1v1h-1zM47 51h1v1h-1z"/>
<path fill="#848484" d="M10 4h1v1h-1z"/>
<path fill="#8a8a8a" d="M7 19h1v1h-1zM28 28h1v1h-1zM51 53h1v1h-1zM50 54h1v1h-1z"/>
<path fill="#909090" d="M40 29h1v1h-1z"/>
<path fill="#9c9c9c" d="M27 27h1v1h-1zM27 29h1v1h-1zM29 29h1v1h-1zM39 29h1v1h-1zM41 29h1v1h-1zM44 44h1v1h-1zM49 53h1v1h-1z"/>
<path fill="#a2a2a2" d="M3 21h1v1h-1zM30 29h1v1h-1z"/>
<path fill="#a8a8a8" d="M47 13h1v1h-1zM3 20h1v1h-1zM30 27h1v1h-1zM52 53h1v1h-1z"/>
<path fill="#aeaeae" d="M53 52h1v1h-1z"/>
<path fill="#bababa" d="M29 27h1v1h-1z"/>
<path fill="#c6c6c6" d="M30 28h1v1h-1zM53 53h1v1h-1z"/>
<path fill="#cccccc" d="M50 52h1v1h-1z"/>
<path fill="#d2d2d2" d="M27 28h1v1h-1z"/>
<path fill="#eaeaea" d="M29 28h1v1h-1z"/>
<path fill="#fcfcfc" d="M50 53h1v1h-1z"/>
</g></g>
<path d="M230.35 166.35L238.65 174.65M230.35 174.65L238.65 166.35" stroke="#f00" stroke-width="1.45" fill="none"/>
<path d="M226.35 169.15L234.65 177.45M226.35 177.45L234.65 169.15" stroke="#00f" stroke-width="1.45" fill="none"/>
<rect x="91.50" y="32.50" width="280.00" height="280.00" fill="none" stroke="#000" stroke-width="1.11"/>
<line x1="110.50" y1="32.50" x2="110.50" y2="27.50" stroke="#000" stroke-width="1.11"/>
<line x1="166.50" y1="32.50" x2="166.50" y2="27.50" stroke="#000" stroke-width="1.11"/>
<line x1="221.50" y1="32.50" x2="221.50" y2="27.50" stroke="#000" stroke-width="1.11"/>
<line x1="277.50" y1="32.50" x2="277.50" y2="27.50" stroke="#000" stroke-width="1.11"/>
<line x1="333.50" y1="32.50" x2="333.50" y2="27.50" stroke="#000" stroke-width="1.11"/>
<line x1="120.50" y1="312.50" x2="120.50" y2="317.50" stroke="#000" stroke-width="1.11"/>
<line x1="174.50" y1="312.50" x2="174.50" y2="317.50" stroke="#000" stroke-width="1.11"/>
<line x1="229.50" y1="312.50" x2="229.50" y2="317.50" stroke="#000" stroke-width="1.11"/>
<line x1="284.50" y1="312.50" x2="284.50" y2="317.50" stroke="#000" stroke-width="1.11"/>
<line x1="339.50" y1="312.50" x2="339.50" y2="317.50" stroke="#000" stroke-width="1.11"/>
<line x1="91.50" y1="82.50" x2="86.50" y2="82.50" stroke="#000" stroke-width="1.11"/>
<line x1="91.50" y1="151.50" x2="86.50" y2="151.50" stroke="#000" stroke-width="1.11"/>
<line x1="91.50" y1="219.50" x2="86.50" y2="219.50" stroke="#000" stroke-width="1.11"/>
<line x1="91.50" y1="287.50" x2="86.50" y2="287.50" stroke="#000" stroke-width="1.11"/>
<line x1="371.50" y1="77.50" x2="376.50" y2="77.50" stroke="#000" stroke-width="1.11"/>
<line x1="371.50" y1="145.50" x2="376.50" y2="145.50" stroke="#000" stroke-width="1.11"/>
<line x1="371.50" y1="213.50" x2="376.50" y2="213.50" stroke="#000" stroke-width="1.11"/>
<line x1="371.50" y1="281.50" x2="376.50" y2="281.50" stroke="#000" stroke-width="1.11"/>
<text x="30.18" y="86.70" font-size="14.72" textLength="51.11" lengthAdjust="spacingAndGlyphs">-36°45'</text>
<text x="30.18" y="155.40" font-size="14.72" textLength="51.11" lengthAdjust="spacingAndGlyphs">-37°00'</text>
<text x="59.81" y="223.60" font-size="14.72" textLength="21.46" lengthAdjust="spacingAndGlyphs">15'</text>
<text x="59.81" y="291.60" font-size="14.72" textLength="21.46" lengthAdjust="spacingAndGlyphs">30'</text>
<text x="210.86" y="23.80" font-size="17.67" textLength="41.34" lengthAdjust="spacingAndGlyphs">Filter</text>
<text x="7.56" y="174.70" font-size="14.72" textLength="26.87" lengthAdjust="spacingAndGlyphs" transform="rotate(-90 21.00 174.70)">Dec</text>
<rect x="380.5" y="32.5" width="9.00" height="280.00" fill="url(#cb)"/>
<rect x="380.50" y="32.50" width="9.00" height="280.00" fill="none" stroke="#000" stroke-width="1.11"/>
<line x1="389.50" y1="58.50" x2="394.50" y2="58.50" stroke="#000" stroke-width="1.11"/>
<text x="398.90" y="63.95" font-size="14.72" textLength="30.94" lengthAdjust="spacingAndGlyphs">2.00</text>
<line x1="389.50" y1="90.50" x2="394.50" y2="90.50" stroke="#000" stroke-width="1.11"/>
<text x="398.90" y="96.12" font-size="14.72" textLength="30.94" lengthAdjust="spacingAndGlyphs">1.75</text>
<line x1="389.50" y1="122.50" x2="394.50" y2="122.50" stroke="#000" stroke-width="1.11"/>
<text x="398.90" y="128.29" font-size="14.72" textLength="30.94" lengthAdjust="spacingAndGlyphs">1.50</text>
<line x1="389.50" y1="154.50" x2="394.50" y2="154.50" stroke="#000" stroke-width="1.11"/>
<text x="398.90" y="160.46" font-size="14.72" textLength="30.94" lengthAdjust="spacingAndGlyphs">1.25</text>
<line x1="389.50" y1="186.50" x2="394.50" y2="186.50" stroke="#000" stroke-width="1.11"/>
<text x="398.90" y="192.63" font-size="14.72" textLength="30.94" lengthAdjust="spacingAndGlyphs">1.00</text>
<line x1="389.50" y1="219.50" x2="394.50" y2="219.50" stroke="#000" stroke-width="1.11"/>
<text x="398.90" y="224.80" font-size="14.72" textLength="30.94" lengthAdjust="spacingAndGlyphs">0.75</text>
<line x1="389.50" y1="251.50" x2="394.50" y2="251.50" stroke="#000" stroke-width="1.11"/>
<text x="398.90" y="256.97" font-size="14.72" textLength="30.94" lengthAdjust="spacingAndGlyphs">0.50</text>
<line x1="389.50" y1="283.50" x2="394.50" y2="283.50" stroke="#000" stroke-width="1.11"/>
<text x="398.90" y="289.14" font-size="14.72" textLength="30.94" lengthAdjust="spacingAndGlyphs">0.25</text>
<text x="393.97" y="172.50" font-size="14.72" textLength="99.06" lengthAdjust="spacingAndGlyphs" transform="rotate(-90 443.50 172.50)">arbitrary units</text>
<g clip-path="url(#c2)">
<polyline points="470.50,186.90 485.48,149.80 500.46,244.70 515.43,185.10 530.41,156.90 545.39,111.50 560.37,102.00 575.35,53.50 590.32,44.70 605.30,56.80 620.28,50.40 635.26,112.60 650.24,139.20 665.21,274.00 680.19,256.10 695.17,238.90 710.15,299.50 725.13,241.40 740.10,242.00 755.08,255.20 770.06,225.70 785.04,233.20 800.02,187.80 814.99,264.10 829.97,141.00" fill="none" stroke="#1f77b4" stroke-width="2.08" stroke-linejoin="round" stroke-linecap="square"/>
<line x1="470.50" y1="156.80" x2="830.50" y2="156.80" stroke="#000" stroke-width="2.08" stroke-dasharray="7.7 3.33"/>
<line x1="470.50" y1="195.80" x2="830.50" y2="195.80" stroke="#000" stroke-width="2.08" stroke-dasharray="7.7 3.33"/>
<line x1="470.50" y1="234.80" x2="830.50" y2="234.80" stroke="#000" stroke-width="2.08" stroke-dasharray="7.7 3.33"/>
</g>
<rect x="470.50" y="32.50" width="360.00" height="280.00" fill="none" stroke="#000" stroke-width="1.11"/>
<line x1="470.50" y1="312.50" x2="470.50" y2="317.50" stroke="#000" stroke-width="1.11"/>
<text x="466.08" y="333.40" font-size="14.72" textLength="8.87" lengthAdjust="spacingAndGlyphs">0</text>
<line x1="545.50" y1="312.50" x2="545.50" y2="317.50" stroke="#000" stroke-width="1.11"/>
<text x="536.55" y="333.40" font-size="14.72" textLength="17.67" lengthAdjust="spacingAndGlyphs">20</text>
<line x1="620.50" y1="312.50" x2="620.50" y2="317.50" stroke="#000" stroke-width="1.11"/>
<text x="611.44" y="333.40" font-size="14.72" textLength="17.67" lengthAdjust="spacingAndGlyphs">40</text>
<line x1="695.50" y1="312.50" x2="695.50" y2="317.50" stroke="#000" stroke-width="1.11"/>
<text x="686.33" y="333.40" font-size="14.72" textLength="17.67" lengthAdjust="spacingAndGlyphs">60</text>
<line x1="770.50" y1="312.50" x2="770.50" y2="317.50" stroke="#000" stroke-width="1.11"/>
<text x="761.22" y="333.40" font-size="14.72" textLength="17.67" lengthAdjust="spacingAndGlyphs">80</text>
<line x1="830.50" y1="62.50" x2="835.50" y2="62.50" stroke="#000" stroke-width="1.11"/>
<text x="839.80" y="67.90" font-size="14.72" textLength="35.35" lengthAdjust="spacingAndGlyphs">1000</text>
<line x1="830.50" y1="95.50" x2="835.50" y2="95.50" stroke="#000" stroke-width="1.11"/>
<text x="839.80" y="101.32" font-size="14.72" textLength="26.54" lengthAdjust="spacingAndGlyphs">750</text>
<line x1="830.50" y1="129.50" x2="835.50" y2="129.50" stroke="#000" stroke-width="1.11"/>
<text x="839.80" y="134.75" font-size="14.72" textLength="26.54" lengthAdjust="spacingAndGlyphs">500</text>
<line x1="830.50" y1="162.50" x2="835.50" y2="162.50" stroke="#000" stroke-width="1.11"/>
<text x="839.80" y="168.17" font-size="14.72" textLength="26.54" lengthAdjust="spacingAndGlyphs">250</text>
<line x1="830.50" y1="196.50" x2="835.50" y2="196.50" stroke="#000" stroke-width="1.11"/>
<text x="839.80" y="201.60" font-size="14.72" textLength="8.87" lengthAdjust="spacingAndGlyphs">0</text>
<line x1="830.50" y1="229.50" x2="835.50" y2="229.50" stroke="#000" stroke-width="1.11"/>
<text x="839.80" y="235.03" font-size="14.72" textLength="38.12" lengthAdjust="spacingAndGlyphs">−250</text>
<line x1="830.50" y1="262.50" x2="835.50" y2="262.50" stroke="#000" stroke-width="1.11"/>
<text x="839.80" y="268.45" font-size="14.72" textLength="38.12" lengthAdjust="spacingAndGlyphs">−500</text>
<line x1="830.50" y1="296.50" x2="835.50" y2="296.50" stroke="#000" stroke-width="1.11"/>
<text x="839.80" y="301.88" font-size="14.72" textLength="38.12" lengthAdjust="spacingAndGlyphs">−750</text>
<text x="601.36" y="23.80" font-size="17.67" textLength="96.12" lengthAdjust="spacingAndGlyphs">Light Curve</text>
<text x="622.10" y="352.70" font-size="14.72" textLength="56.54" lengthAdjust="spacingAndGlyphs">Time (s)</text>
<text x="813.41" y="173.30" font-size="14.72" textLength="159.18" lengthAdjust="spacingAndGlyphs" transform="rotate(-90 893.00 173.30)">Brightness (mJy/beam)</text>
<g clip-path="url(#c3)">
<rect x="91" y="364" width="282" height="282" fill="#101010"/>
<rect x="91" y="364" width="282" height="282" filter="url(#gn)"/>
<ellipse cx="117.8" cy="410" rx="9.0" ry="14.0" fill="url(#gA)" opacity="0.54" transform="rotate(25 117.8 410)"/>
<ellipse cx="108" cy="437.8" rx="9.0" ry="8.0" fill="url(#gA)" opacity="0.44"/>
<ellipse cx="133.9" cy="477.5" rx="10.0" ry="9.0" fill="url(#gA)" opacity="0.75"/>
<ellipse cx="322.4" cy="491.1" rx="7.0" ry="7.0" fill="url(#gA)" opacity="0.38"/>
<ellipse cx="270.6" cy="561.7" rx="7.0" ry="7.0" fill="url(#gA)" opacity="0.35"/>
<ellipse cx="336.7" cy="603.2" rx="8.0" ry="8.0" fill="url(#gA)" opacity="0.56"/>
<ellipse cx="359.9" cy="609" rx="13.0" ry="20.0" fill="url(#gA)" opacity="0.50"/>
<ellipse cx="121.7" cy="619" rx="7.0" ry="7.0" fill="url(#gA)" opacity="0.28"/>
<ellipse cx="135" cy="628" rx="7.0" ry="9.0" fill="url(#gA)" opacity="0.25" transform="rotate(20 135 628)"/>
<ellipse cx="141.6" cy="575" rx="16.0" ry="10.0" fill="url(#gA)" opacity="0.22"/>
<ellipse cx="180" cy="493" rx="8.0" ry="10.0" fill="url(#gA)" opacity="0.22"/>
<ellipse cx="262" cy="599" rx="16.0" ry="12.0" fill="url(#gA)" opacity="0.38" transform="rotate(-25 262 599)"/>
<ellipse cx="260.6" cy="597" rx="9.2" ry="8.0" fill="url(#gA)" opacity="0.88" transform="rotate(-20 260.6 597)"/>
<ellipse cx="251" cy="607" rx="10.0" ry="14.0" fill="url(#gA)" opacity="0.25"/>
<ellipse cx="354" cy="634.5" rx="12.0" ry="8.0" fill="url(#gA)" opacity="0.44"/>
<ellipse cx="369" cy="634.5" rx="14.0" ry="10.0" fill="url(#gA)" opacity="0.69"/>
<circle cx="142.7" cy="515.4" r="8.2" fill="url(#gC)"/>
<circle cx="335.0" cy="578.3" r="8.2" fill="url(#gC)"/>
<circle cx="105.6" cy="601.4" r="11.5" fill="url(#gC)"/>
<ellipse cx="112.3" cy="466.4" rx="9.8" ry="9.1" fill="url(#gB)" transform="rotate(30 112.3 466.4)"/>
<ellipse cx="323.5" cy="425.4" rx="8.1" ry="8.1" fill="url(#gB)"/>
<ellipse cx="227.9" cy="506.4" rx="8.9" ry="10.1" fill="url(#gB)"/>
<ellipse cx="284.9" cy="511.5" rx="10.7" ry="8.7" fill="url(#gB)" transform="rotate(-10 284.9 511.5)"/>
<path d="M288.5 606.5 Q298 619 314 625.2 T336 632.4" stroke="#fff" stroke-opacity="0.5" stroke-width="20" fill="none" stroke-linecap="round" filter="url(#b3)"/>
<path d="M288.5 606.5 Q298 619 314 625.2" stroke="#fff" stroke-width="9.4" fill="none" stroke-linecap="round" filter="url(#b1)"/>
<path d="M314 625.2 Q325 629.5 336 632.4" stroke="#fff" stroke-width="5.0" fill="none" stroke-linecap="round" filter="url(#b1)"/>
<ellipse cx="289.3" cy="607.0" rx="7.0" ry="8.6" fill="url(#gB)" transform="rotate(-40 289.3 607.0)"/>
<ellipse cx="313.9" cy="625.2" rx="7.5" ry="5.6" fill="url(#gB)" transform="rotate(22 313.9 625.2)"/>
<ellipse cx="335.4" cy="632.8" rx="15.4" ry="11.4" fill="url(#gB)" transform="rotate(-6 335.4 632.8)"/>
<rect x="91" y="643.8" width="282" height="1.3" fill="#fafafa"/>
</g>
<path d="M227.35 500.35L235.65 508.65M227.35 508.65L235.65 500.35" stroke="#f00" stroke-width="1.45" fill="none"/>
<path d="M224.35 504.15L232.65 512.45M224.35 512.45L232.65 504.15" stroke="#00f" stroke-width="1.45" fill="none"/>
<rect x="91.50" y="365.50" width="280.00" height="280.00" fill="none" stroke="#000" stroke-width="1.11"/>
<line x1="110.50" y1="365.50" x2="110.50" y2="360.50" stroke="#000" stroke-width="1.11"/>
<line x1="167.50" y1="365.50" x2="167.50" y2="360.50" stroke="#000" stroke-width="1.11"/>
<line x1="223.50" y1="365.50" x2="223.50" y2="360.50" stroke="#000" stroke-width="1.11"/>
<line x1="279.50" y1="365.50" x2="279.50" y2="360.50" stroke="#000" stroke-width="1.11"/>
<line x1="335.50" y1="365.50" x2="335.50" y2="360.50" stroke="#000" stroke-width="1.11"/>
<line x1="112.50" y1="645.50" x2="112.50" y2="650.50" stroke="#000" stroke-width="1.11"/>
<line x1="167.50" y1="645.50" x2="167.50" y2="650.50" stroke="#000" stroke-width="1.11"/>
<line x1="223.50" y1="645.50" x2="223.50" y2="650.50" stroke="#000" stroke-width="1.11"/>
<line x1="278.50" y1="645.50" x2="278.50" y2="650.50" stroke="#000" stroke-width="1.11"/>
<line x1="334.50" y1="645.50" x2="334.50" y2="650.50" stroke="#000" stroke-width="1.11"/>
<line x1="91.50" y1="412.50" x2="86.50" y2="412.50" stroke="#000" stroke-width="1.11"/>
<line x1="371.50" y1="412.50" x2="376.50" y2="412.50" stroke="#000" stroke-width="1.11"/>
<line x1="91.50" y1="482.50" x2="86.50" y2="482.50" stroke="#000" stroke-width="1.11"/>
<line x1="371.50" y1="482.50" x2="376.50" y2="482.50" stroke="#000" stroke-width="1.11"/>
<line x1="91.50" y1="552.50" x2="86.50" y2="552.50" stroke="#000" stroke-width="1.11"/>
<line x1="371.50" y1="552.50" x2="376.50" y2="552.50" stroke="#000" stroke-width="1.11"/>
<line x1="91.50" y1="622.50" x2="86.50" y2="622.50" stroke="#000" stroke-width="1.11"/>
<line x1="371.50" y1="622.50" x2="376.50" y2="622.50" stroke="#000" stroke-width="1.11"/>
<text x="30.18" y="416.80" font-size="14.72" textLength="51.11" lengthAdjust="spacingAndGlyphs">-36°45'</text>
<text x="30.18" y="486.70" font-size="14.72" textLength="51.11" lengthAdjust="spacingAndGlyphs">-37°00'</text>
<text x="59.81" y="556.90" font-size="14.72" textLength="21.46" lengthAdjust="spacingAndGlyphs">15'</text>
<text x="59.81" y="626.40" font-size="14.72" textLength="21.46" lengthAdjust="spacingAndGlyphs">30'</text>
<text x="202.24" y="356.20" font-size="17.67" textLength="58.56" lengthAdjust="spacingAndGlyphs">GLEAM</text>
<text x="7.56" y="506.70" font-size="14.72" textLength="26.87" lengthAdjust="spacingAndGlyphs" transform="rotate(-90 21.00 506.70)">Dec</text>
<text x="222.90" y="686.00" font-size="14.72" textLength="18.59" lengthAdjust="spacingAndGlyphs">RA</text>
<text x="86.81" y="665.00" font-size="14.72" textLength="17.67" lengthAdjust="spacingAndGlyphs">11</text>
<text x="104.48" y="660.00" font-size="10.31" textLength="6.17" lengthAdjust="spacingAndGlyphs">h</text>
<text x="110.65" y="665.00" font-size="14.72" textLength="17.67" lengthAdjust="spacingAndGlyphs">14</text>
<text x="128.32" y="660.00" font-size="10.31" textLength="9.47" lengthAdjust="spacingAndGlyphs">m</text>
<text x="154.23" y="665.00" font-size="14.72" textLength="17.67" lengthAdjust="spacingAndGlyphs">13</text>
<text x="171.90" y="660.00" font-size="10.31" textLength="9.47" lengthAdjust="spacingAndGlyphs">m</text>
<text x="210.03" y="665.00" font-size="14.72" textLength="17.67" lengthAdjust="spacingAndGlyphs">12</text>
<text x="227.70" y="660.00" font-size="10.31" textLength="9.47" lengthAdjust="spacingAndGlyphs">m</text>
<text x="264.93" y="665.00" font-size="14.72" textLength="17.67" lengthAdjust="spacingAndGlyphs">11</text>
<text x="282.60" y="660.00" font-size="10.31" textLength="9.47" lengthAdjust="spacingAndGlyphs">m</text>
<text x="320.93" y="665.00" font-size="14.72" textLength="17.67" lengthAdjust="spacingAndGlyphs">10</text>
<text x="338.60" y="660.00" font-size="10.31" textLength="9.47" lengthAdjust="spacingAndGlyphs">m</text>
<rect x="380.5" y="365.5" width="9.00" height="280.00" fill="url(#cb)"/>
<rect x="380.50" y="365.50" width="9.00" height="280.00" fill="none" stroke="#000" stroke-width="1.11"/>
<line x1="389.50" y1="369.50" x2="394.50" y2="369.50" stroke="#000" stroke-width="1.11"/>
<text x="398.80" y="374.00" font-size="14.72" textLength="26.54" lengthAdjust="spacingAndGlyphs">140</text>
<line x1="389.50" y1="402.50" x2="394.50" y2="402.50" stroke="#000" stroke-width="1.11"/>
<text x="398.80" y="407.74" font-size="14.72" textLength="26.54" lengthAdjust="spacingAndGlyphs">120</text>
<line x1="389.50" y1="436.50" x2="394.50" y2="436.50" stroke="#000" stroke-width="1.11"/>
<text x="398.80" y="441.48" font-size="14.72" textLength="26.54" lengthAdjust="spacingAndGlyphs">100</text>
<line x1="389.50" y1="470.50" x2="394.50" y2="470.50" stroke="#000" stroke-width="1.11"/>
<text x="398.80" y="475.22" font-size="14.72" textLength="17.67" lengthAdjust="spacingAndGlyphs">80</text>
<line x1="389.50" y1="504.50" x2="394.50" y2="504.50" stroke="#000" stroke-width="1.11"/>
<text x="398.80" y="508.96" font-size="14.72" textLength="17.67" lengthAdjust="spacingAndGlyphs">60</text>
<line x1="389.50" y1="537.50" x2="394.50" y2="537.50" stroke="#000" stroke-width="1.11"/>
<text x="398.80" y="542.70" font-size="14.72" textLength="17.67" lengthAdjust="spacingAndGlyphs">40</text>
<line x1="389.50" y1="571.50" x2="394.50" y2="571.50" stroke="#000" stroke-width="1.11"/>
<text x="398.80" y="576.44" font-size="14.72" textLength="17.67" lengthAdjust="spacingAndGlyphs">20</text>
<line x1="389.50" y1="605.50" x2="394.50" y2="605.50" stroke="#000" stroke-width="1.11"/>
<text x="398.80" y="610.18" font-size="14.72" textLength="8.87" lengthAdjust="spacingAndGlyphs">0</text>
<line x1="389.50" y1="639.50" x2="394.50" y2="639.50" stroke="#000" stroke-width="1.11"/>
<text x="398.80" y="643.92" font-size="14.72" textLength="29.32" lengthAdjust="spacingAndGlyphs">−20</text>
<text x="362.91" y="505.40" font-size="14.72" textLength="159.18" lengthAdjust="spacingAndGlyphs" transform="rotate(-90 442.50 505.40)">Brightness (mJy/beam)</text>
<g clip-path="url(#c4)" shape-rendering="crispEdges">
<rect x="470.60" y="500.20" width="3.20" height="145.30" fill="#00f" fill-opacity="0.3"/>
<rect x="473.80" y="428.90" width="3.20" height="216.60" fill="#00f" fill-opacity="0.3"/>
<rect x="477.00" y="465.00" width="3.20" height="180.50" fill="#00f" fill-opacity="0.3"/>
<rect x="480.20" y="520.80" width="3.20" height="124.70" fill="#00f" fill-opacity="0.3"/>
<rect x="483.40" y="558.40" width="3.20" height="87.10" fill="#00f" fill-opacity="0.3"/>
<rect x="486.60" y="591.00" width="3.20" height="54.50" fill="#00f" fill-opacity="0.3"/>
<rect x="489.80" y="609.00" width="3.20" height="36.50" fill="#00f" fill-opacity="0.3"/>
<rect x="493.00" y="622.30" width="3.20" height="23.20" fill="#00f" fill-opacity="0.3"/>
<rect x="496.20" y="627.60" width="3.20" height="17.90" fill="#00f" fill-opacity="0.3"/>
<rect x="499.40" y="634.80" width="3.20" height="10.70" fill="#00f" fill-opacity="0.3"/>
<rect x="502.60" y="637.40" width="3.20" height="8.10" fill="#00f" fill-opacity="0.3"/>
<rect x="505.80" y="639.50" width="3.20" height="6.00" fill="#00f" fill-opacity="0.3"/>
<rect x="509.00" y="640.50" width="3.20" height="5.00" fill="#00f" fill-opacity="0.3"/>
<rect x="512.20" y="641.30" width="3.20" height="4.20" fill="#00f" fill-opacity="0.3"/>
<rect x="515.40" y="642.20" width="3.20" height="3.30" fill="#00f" fill-opacity="0.3"/>
<rect x="518.60" y="642.80" width="3.20" height="2.70" fill="#00f" fill-opacity="0.3"/>
<rect x="521.80" y="643.30" width="3.20" height="2.20" fill="#00f" fill-opacity="0.3"/>
<rect x="525.00" y="643.70" width="3.20" height="1.80" fill="#00f" fill-opacity="0.3"/>
<rect x="528.20" y="644.00" width="3.20" height="1.50" fill="#00f" fill-opacity="0.3"/>
<rect x="531.40" y="644.20" width="3.20" height="1.30" fill="#00f" fill-opacity="0.3"/>
<rect x="534.60" y="644.40" width="3.20" height="1.10" fill="#00f" fill-opacity="0.3"/>
<rect x="537.80" y="644.50" width="3.20" height="1.00" fill="#00f" fill-opacity="0.3"/>
<rect x="541.00" y="644.60" width="3.20" height="0.90" fill="#00f" fill-opacity="0.3"/>
<rect x="544.20" y="644.70" width="3.20" height="0.80" fill="#00f" fill-opacity="0.3"/>
<rect x="547.40" y="644.80" width="3.20" height="0.70" fill="#00f" fill-opacity="0.3"/>
<rect x="470.60" y="458.10" width="6.84" height="187.40" fill="#f00" fill-opacity="0.3"/>
<rect x="477.45" y="378.00" width="6.84" height="267.50" fill="#f00" fill-opacity="0.3"/>
<rect x="484.29" y="470.90" width="6.84" height="174.60" fill="#f00" fill-opacity="0.3"/>
<rect x="491.14" y="538.90" width="6.84" height="106.60" fill="#f00" fill-opacity="0.3"/>
<rect x="497.98" y="576.00" width="6.84" height="69.50" fill="#f00" fill-opacity="0.3"/>
<rect x="504.83" y="606.10" width="6.84" height="39.40" fill="#f00" fill-opacity="0.3"/>
<rect x="511.67" y="619.00" width="6.84" height="26.50" fill="#f00" fill-opacity="0.3"/>
<rect x="518.51" y="629.10" width="6.84" height="16.40" fill="#f00" fill-opacity="0.3"/>
<rect x="525.36" y="635.20" width="6.84" height="10.30" fill="#f00" fill-opacity="0.3"/>
<rect x="532.21" y="636.70" width="6.84" height="8.80" fill="#f00" fill-opacity="0.3"/>
<rect x="539.05" y="639.70" width="6.84" height="5.80" fill="#f00" fill-opacity="0.3"/>
<rect x="545.89" y="640.90" width="6.84" height="4.60" fill="#f00" fill-opacity="0.3"/>
<rect x="552.74" y="643.20" width="6.84" height="2.30" fill="#f00" fill-opacity="0.3"/>
<rect x="559.59" y="642.00" width="6.84" height="3.50" fill="#f00" fill-opacity="0.3"/>
<rect x="566.43" y="643.70" width="6.84" height="1.80" fill="#f00" fill-opacity="0.3"/>
<rect x="573.27" y="644.00" width="6.84" height="1.50" fill="#f00" fill-opacity="0.3"/>
<rect x="580.12" y="644.10" width="6.84" height="1.40" fill="#f00" fill-opacity="0.3"/>
<rect x="586.97" y="644.20" width="6.84" height="1.30" fill="#f00" fill-opacity="0.3"/>
<rect x="593.81" y="644.20" width="6.84" height="1.30" fill="#f00" fill-opacity="0.3"/>
<rect x="600.65" y="644.30" width="6.84" height="1.20" fill="#f00" fill-opacity="0.3"/>
<rect x="607.50" y="644.30" width="6.84" height="1.20" fill="#f00" fill-opacity="0.3"/>
<rect x="614.35" y="644.30" width="6.84" height="1.20" fill="#f00" fill-opacity="0.3"/>
<rect x="621.19" y="644.40" width="6.84" height="1.10" fill="#f00" fill-opacity="0.3"/>
<rect x="628.04" y="644.40" width="6.84" height="1.10" fill="#f00" fill-opacity="0.3"/>
<rect x="641.73" y="644.40" width="6.84" height="1.10" fill="#f00" fill-opacity="0.3"/>
<rect x="655.41" y="644.40" width="6.84" height="1.10" fill="#f00" fill-opacity="0.3"/>
<rect x="703.33" y="644.30" width="6.84" height="1.20" fill="#f00" fill-opacity="0.3"/>
<rect x="778.62" y="644.30" width="6.84" height="1.20" fill="#f00" fill-opacity="0.3"/>
<rect x="806.00" y="644.30" width="6.84" height="1.20" fill="#f00" fill-opacity="0.3"/>
</g>
<g clip-path="url(#c4)">
<line x1="473.90" y1="645.50" x2="473.90" y2="365.50" stroke="#000" stroke-width="2.08" stroke-dasharray="7.7 3.33"/>
<line x1="485.10" y1="365.50" x2="485.10" y2="645.50" stroke="#000" stroke-width="2.08"/>
</g>
<rect x="470.50" y="365.50" width="360.00" height="280.00" fill="none" stroke="#000" stroke-width="1.11"/>
<line x1="470.50" y1="645.50" x2="470.50" y2="650.50" stroke="#000" stroke-width="1.11"/>
<text x="466.18" y="666.40" font-size="14.72" textLength="8.87" lengthAdjust="spacingAndGlyphs">0</text>
<line x1="543.50" y1="645.50" x2="543.50" y2="650.50" stroke="#000" stroke-width="1.11"/>
<text x="534.46" y="666.40" font-size="14.72" textLength="17.67" lengthAdjust="spacingAndGlyphs">10</text>
<line x1="616.50" y1="645.50" x2="616.50" y2="650.50" stroke="#000" stroke-width="1.11"/>
<text x="607.16" y="666.40" font-size="14.72" textLength="17.67" lengthAdjust="spacingAndGlyphs">20</text>
<line x1="688.50" y1="645.50" x2="688.50" y2="650.50" stroke="#000" stroke-width="1.11"/>
<text x="679.86" y="666.40" font-size="14.72" textLength="17.67" lengthAdjust="spacingAndGlyphs">30</text>
<line x1="761.50" y1="645.50" x2="761.50" y2="650.50" stroke="#000" stroke-width="1.11"/>
<text x="752.56" y="666.40" font-size="14.72" textLength="17.67" lengthAdjust="spacingAndGlyphs">40</text>
<line x1="830.50" y1="645.50" x2="835.50" y2="645.50" stroke="#000" stroke-width="1.11"/>
<text x="839.80" y="650.30" font-size="14.72" textLength="8.87" lengthAdjust="spacingAndGlyphs">0</text>
<line x1="830.50" y1="586.50" x2="835.50" y2="586.50" stroke="#000" stroke-width="1.11"/>
<text x="839.80" y="591.80" font-size="14.72" textLength="35.35" lengthAdjust="spacingAndGlyphs">1000</text>
<line x1="830.50" y1="528.50" x2="835.50" y2="528.50" stroke="#000" stroke-width="1.11"/>
<text x="839.80" y="533.30" font-size="14.72" textLength="35.35" lengthAdjust="spacingAndGlyphs">2000</text>
<line x1="830.50" y1="469.50" x2="835.50" y2="469.50" stroke="#000" stroke-width="1.11"/>
<text x="839.80" y="474.80" font-size="14.72" textLength="35.35" lengthAdjust="spacingAndGlyphs">3000</text>
<line x1="830.50" y1="411.50" x2="835.50" y2="411.50" stroke="#000" stroke-width="1.11"/>
<text x="839.80" y="416.30" font-size="14.72" textLength="35.35" lengthAdjust="spacingAndGlyphs">4000</text>
<text x="512.12" y="684.90" font-size="14.72" textLength="276.40" lengthAdjust="spacingAndGlyphs">Normalised stdev or detection statistics</text>
<text x="824.52" y="505.40" font-size="14.72" textLength="133.01" lengthAdjust="spacingAndGlyphs" transform="rotate(-90 891.00 505.40)">Number of Sources</text>
<rect x="618.4" y="370.3" width="206.2" height="66" rx="2.2" fill="#fff" fill-opacity="0.8" stroke="#ccc" stroke-opacity="0.8" stroke-width="1.11"/>
<rect x="622" y="375.0" width="22.9" height="7.9" fill="#00f" fill-opacity="0.3"/>
<rect x="622" y="390.1" width="22.9" height="7.8" fill="#f00" fill-opacity="0.3"/>
<line x1="622.00" y1="410.20" x2="644.90" y2="410.20" stroke="#000" stroke-width="2.08" stroke-dasharray="7.7 3.33"/>
<line x1="622.00" y1="425.40" x2="644.90" y2="425.40" stroke="#000" stroke-width="2.08" stroke-linecap="square"/>
<text x="653.60" y="382.90" font-size="11.78" textLength="110.35" lengthAdjust="spacingAndGlyphs">Known srcs residual</text>
<text x="653.60" y="398.10" font-size="11.78" textLength="166.04" lengthAdjust="spacingAndGlyphs">Known srcs detection statistic</text>
<text x="653.60" y="414.00" font-size="11.78" textLength="104.36" lengthAdjust="spacingAndGlyphs">Candidate residual</text>
<text x="653.60" y="429.10" font-size="11.78" textLength="160.05" lengthAdjust="spacingAndGlyphs">Candidate detection statistic</text>
</svg></body></html>
